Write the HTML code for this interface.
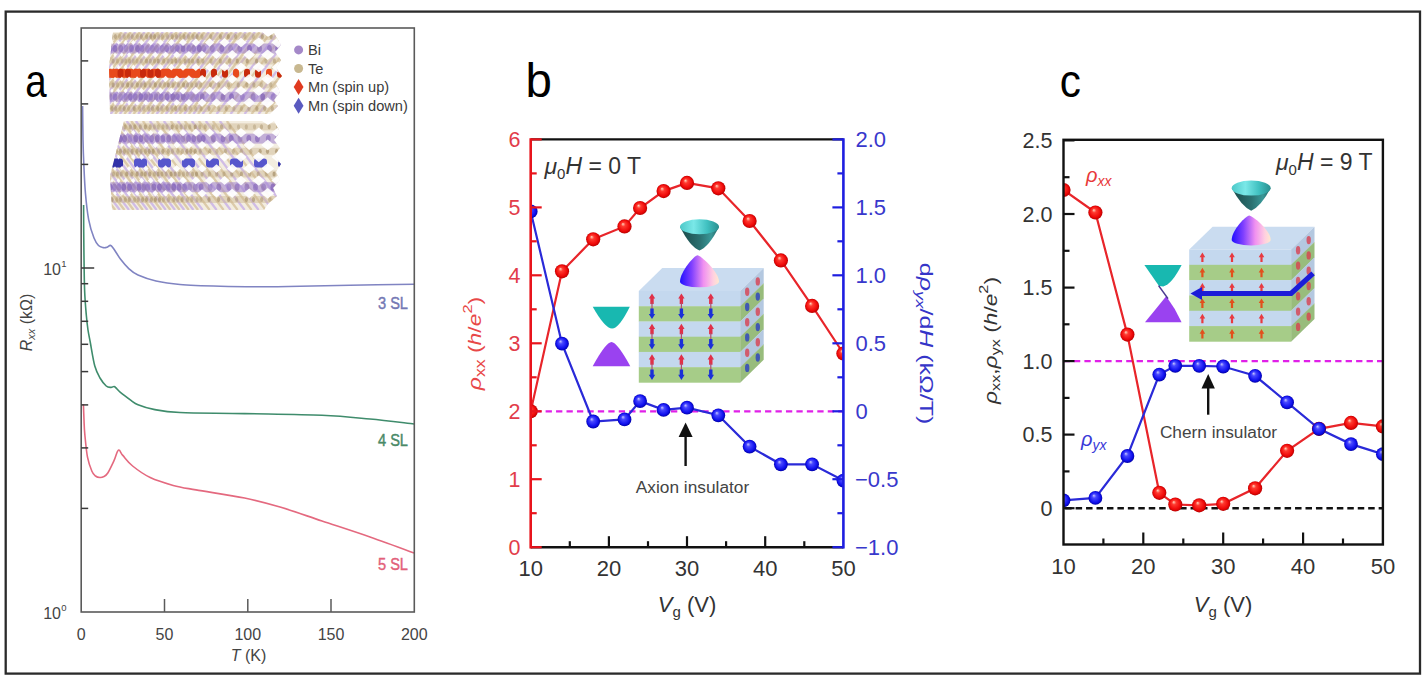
<!DOCTYPE html>
<html><head><meta charset="utf-8"><style>
html,body{margin:0;padding:0;background:#fff;width:1425px;height:679px;overflow:hidden}
svg{display:block;font-family:"Liberation Sans", sans-serif}
</style></head><body>
<svg width="1425" height="679" viewBox="0 0 1425 679">
<defs>
<filter id="soft" x="-5%" y="-5%" width="110%" height="110%"><feGaussianBlur stdDeviation="0.6"/></filter>
<radialGradient id="gr" cx="0.5" cy="0.5" r="0.52" fx="0.38" fy="0.32">
<stop offset="0" stop-color="#ffd8c0"/><stop offset="0.28" stop-color="#ff3a30"/><stop offset="0.75" stop-color="#ee0808"/><stop offset="1" stop-color="#b00000"/></radialGradient>
<radialGradient id="gb" cx="0.5" cy="0.5" r="0.52" fx="0.38" fy="0.32">
<stop offset="0" stop-color="#c8c8ff"/><stop offset="0.28" stop-color="#4848ff"/><stop offset="0.75" stop-color="#1010ee"/><stop offset="1" stop-color="#0000a0"/></radialGradient>
</defs>
<rect x="5.7" y="11.6" width="1414.3" height="662" fill="none" stroke="#2a2a2a" stroke-width="2.3"/>
<text transform="translate(25.3,96.6) scale(0.82,1)" font-size="47" fill="#000">a</text>
<text x="525.5" y="96.6" font-size="47.5" fill="#000">b</text>
<text transform="translate(1059.8,96.6) scale(0.9,1)" font-size="47" fill="#000">c</text>
<g filter="url(#soft)">
<clipPath id="cr0"><path d="M113,32 L262,32 L268,37 L274,33 L281,45 L275,52 L281,60 L276,68 L282,76 L276,84 L280,92 L274,100 L278,106 L270,114 L110,114 L109,68 Z"/></clipPath>
<g clip-path="url(#cr0)"><rect x="100" y="32" width="190" height="82" fill="#f3ede0"/><line x1="60.0" y1="114" x2="121.5" y2="32" stroke="#dccbaa" stroke-width="2.3"/><line x1="64.6" y1="114" x2="126.1" y2="32" stroke="#d0bce6" stroke-width="2.3"/><line x1="69.2" y1="114" x2="130.7" y2="32" stroke="#dccbaa" stroke-width="2.3"/><line x1="73.8" y1="114" x2="135.3" y2="32" stroke="#d0bce6" stroke-width="2.3"/><line x1="78.4" y1="114" x2="139.9" y2="32" stroke="#dccbaa" stroke-width="2.3"/><line x1="83.0" y1="114" x2="144.5" y2="32" stroke="#d0bce6" stroke-width="2.3"/><line x1="87.6" y1="114" x2="149.1" y2="32" stroke="#dccbaa" stroke-width="2.3"/><line x1="92.2" y1="114" x2="153.7" y2="32" stroke="#d0bce6" stroke-width="2.3"/><line x1="96.8" y1="114" x2="158.3" y2="32" stroke="#dccbaa" stroke-width="2.3"/><line x1="101.4" y1="114" x2="162.9" y2="32" stroke="#d0bce6" stroke-width="2.3"/><line x1="106.0" y1="114" x2="167.5" y2="32" stroke="#dccbaa" stroke-width="2.3"/><line x1="110.6" y1="114" x2="172.1" y2="32" stroke="#d0bce6" stroke-width="2.3"/><line x1="115.2" y1="114" x2="176.7" y2="32" stroke="#dccbaa" stroke-width="2.3"/><line x1="119.8" y1="114" x2="181.3" y2="32" stroke="#d0bce6" stroke-width="2.3"/><line x1="124.4" y1="114" x2="185.9" y2="32" stroke="#dccbaa" stroke-width="2.3"/><line x1="129.0" y1="114" x2="190.5" y2="32" stroke="#d0bce6" stroke-width="2.3"/><line x1="133.6" y1="114" x2="195.1" y2="32" stroke="#dccbaa" stroke-width="2.3"/><line x1="138.2" y1="114" x2="199.7" y2="32" stroke="#d0bce6" stroke-width="2.3"/><line x1="142.8" y1="114" x2="204.3" y2="32" stroke="#dccbaa" stroke-width="2.3"/><line x1="147.4" y1="114" x2="208.9" y2="32" stroke="#d0bce6" stroke-width="2.3"/><line x1="152.0" y1="114" x2="213.5" y2="32" stroke="#dccbaa" stroke-width="2.3"/><line x1="156.6" y1="114" x2="218.1" y2="32" stroke="#d0bce6" stroke-width="2.3"/><line x1="161.2" y1="114" x2="222.7" y2="32" stroke="#dccbaa" stroke-width="2.3"/><line x1="165.8" y1="114" x2="227.3" y2="32" stroke="#d0bce6" stroke-width="2.3"/><line x1="170.4" y1="114" x2="231.9" y2="32" stroke="#dccbaa" stroke-width="2.3"/><line x1="175.0" y1="114" x2="236.5" y2="32" stroke="#d0bce6" stroke-width="2.3"/><line x1="179.6" y1="114" x2="241.1" y2="32" stroke="#dccbaa" stroke-width="2.3"/><line x1="184.2" y1="114" x2="245.7" y2="32" stroke="#d0bce6" stroke-width="2.3"/><line x1="188.8" y1="114" x2="250.3" y2="32" stroke="#dccbaa" stroke-width="2.3"/><line x1="193.4" y1="114" x2="254.9" y2="32" stroke="#d0bce6" stroke-width="2.3"/><line x1="198.0" y1="114" x2="259.5" y2="32" stroke="#dccbaa" stroke-width="2.3"/><line x1="202.6" y1="114" x2="264.1" y2="32" stroke="#d0bce6" stroke-width="2.3"/><line x1="209.6" y1="114" x2="271.1" y2="32" stroke="#dccbaa" stroke-width="2.3"/><line x1="216.6" y1="114" x2="278.1" y2="32" stroke="#d0bce6" stroke-width="2.3"/><line x1="223.6" y1="114" x2="285.1" y2="32" stroke="#dccbaa" stroke-width="2.3"/><line x1="230.6" y1="114" x2="292.1" y2="32" stroke="#d0bce6" stroke-width="2.3"/><line x1="237.6" y1="114" x2="299.1" y2="32" stroke="#dccbaa" stroke-width="2.3"/><line x1="244.6" y1="114" x2="306.1" y2="32" stroke="#d0bce6" stroke-width="2.3"/><line x1="251.6" y1="114" x2="313.1" y2="32" stroke="#dccbaa" stroke-width="2.3"/><line x1="258.6" y1="114" x2="320.1" y2="32" stroke="#d0bce6" stroke-width="2.3"/><line x1="265.6" y1="114" x2="327.1" y2="32" stroke="#dccbaa" stroke-width="2.3"/><line x1="272.6" y1="114" x2="334.1" y2="32" stroke="#d0bce6" stroke-width="2.3"/><line x1="279.6" y1="114" x2="341.1" y2="32" stroke="#dccbaa" stroke-width="2.3"/><line x1="286.6" y1="114" x2="348.1" y2="32" stroke="#d0bce6" stroke-width="2.3"/><line x1="293.6" y1="114" x2="355.1" y2="32" stroke="#dccbaa" stroke-width="2.3"/><rect x="100" y="33.0" width="190" height="7" fill="#cbb68e" opacity="0.45"/><ellipse cx="108.0" cy="36.5" rx="1.6" ry="2.6" fill="#a8926c" opacity="0.51"/><ellipse cx="111.8" cy="36.5" rx="1.6" ry="2.6" fill="#a8926c" opacity="0.63"/><ellipse cx="115.4" cy="36.5" rx="1.6" ry="2.6" fill="#a8926c" opacity="0.59"/><ellipse cx="119.7" cy="36.5" rx="1.6" ry="2.6" fill="#a8926c" opacity="0.42"/><ellipse cx="124.2" cy="36.5" rx="1.6" ry="2.6" fill="#a8926c" opacity="0.41"/><ellipse cx="128.6" cy="36.5" rx="1.6" ry="2.6" fill="#a8926c" opacity="0.42"/><ellipse cx="132.2" cy="36.5" rx="1.6" ry="2.6" fill="#a8926c" opacity="0.55"/><ellipse cx="137.4" cy="36.5" rx="1.6" ry="2.6" fill="#a8926c" opacity="0.44"/><ellipse cx="141.3" cy="36.5" rx="1.6" ry="2.6" fill="#a8926c" opacity="0.62"/><ellipse cx="146.7" cy="36.5" rx="1.6" ry="2.6" fill="#a8926c" opacity="0.60"/><ellipse cx="151.0" cy="36.5" rx="1.6" ry="2.6" fill="#a8926c" opacity="0.74"/><ellipse cx="154.6" cy="36.5" rx="1.6" ry="2.6" fill="#a8926c" opacity="0.70"/><ellipse cx="158.7" cy="36.5" rx="1.6" ry="2.6" fill="#a8926c" opacity="0.45"/><ellipse cx="162.4" cy="36.5" rx="1.6" ry="2.6" fill="#a8926c" opacity="0.51"/><ellipse cx="167.6" cy="36.5" rx="1.6" ry="2.6" fill="#a8926c" opacity="0.46"/><ellipse cx="172.2" cy="36.5" rx="1.6" ry="2.6" fill="#a8926c" opacity="0.62"/><ellipse cx="176.5" cy="36.5" rx="1.6" ry="2.6" fill="#a8926c" opacity="0.59"/><ellipse cx="180.1" cy="36.5" rx="1.6" ry="2.6" fill="#a8926c" opacity="0.42"/><ellipse cx="184.0" cy="36.5" rx="1.6" ry="2.6" fill="#a8926c" opacity="0.64"/><ellipse cx="188.4" cy="36.5" rx="1.6" ry="2.6" fill="#a8926c" opacity="0.51"/><ellipse cx="193.0" cy="36.5" rx="1.6" ry="2.6" fill="#a8926c" opacity="0.56"/><ellipse cx="197.1" cy="36.5" rx="1.6" ry="2.6" fill="#a8926c" opacity="0.68"/><ellipse cx="202.0" cy="36.5" rx="1.6" ry="2.6" fill="#a8926c" opacity="0.49"/><ellipse cx="210.8" cy="36.5" rx="1.6" ry="2.6" fill="#a8926c" opacity="0.58"/><ellipse cx="220.4" cy="36.5" rx="1.6" ry="2.6" fill="#a8926c" opacity="0.66"/><ellipse cx="228.3" cy="36.5" rx="1.6" ry="2.6" fill="#a8926c" opacity="0.74"/><ellipse cx="235.6" cy="36.5" rx="1.6" ry="2.6" fill="#a8926c" opacity="0.55"/><ellipse cx="244.9" cy="36.5" rx="1.6" ry="2.6" fill="#a8926c" opacity="0.45"/><ellipse cx="253.3" cy="36.5" rx="1.6" ry="2.6" fill="#a8926c" opacity="0.41"/><ellipse cx="262.3" cy="36.5" rx="1.6" ry="2.6" fill="#a8926c" opacity="0.67"/><ellipse cx="271.1" cy="36.5" rx="1.6" ry="2.6" fill="#a8926c" opacity="0.71"/><ellipse cx="279.0" cy="36.5" rx="1.6" ry="2.6" fill="#a8926c" opacity="0.64"/><rect x="100" y="43.5" width="190" height="10" fill="#a486d0" opacity="0.6"/><ellipse cx="110.0" cy="48.5" rx="2.4" ry="3.6" fill="#7c5cb4" opacity="0.55"/><ellipse cx="114.9" cy="48.5" rx="2.4" ry="3.6" fill="#7c5cb4" opacity="0.64"/><ellipse cx="120.8" cy="48.5" rx="2.4" ry="3.6" fill="#7c5cb4" opacity="0.52"/><ellipse cx="126.1" cy="48.5" rx="2.4" ry="3.6" fill="#7c5cb4" opacity="0.37"/><ellipse cx="131.5" cy="48.5" rx="2.4" ry="3.6" fill="#7c5cb4" opacity="0.58"/><ellipse cx="137.5" cy="48.5" rx="2.4" ry="3.6" fill="#7c5cb4" opacity="0.64"/><ellipse cx="142.1" cy="48.5" rx="2.4" ry="3.6" fill="#7c5cb4" opacity="0.49"/><ellipse cx="147.4" cy="48.5" rx="2.4" ry="3.6" fill="#7c5cb4" opacity="0.36"/><ellipse cx="152.3" cy="48.5" rx="2.4" ry="3.6" fill="#7c5cb4" opacity="0.41"/><ellipse cx="156.6" cy="48.5" rx="2.4" ry="3.6" fill="#7c5cb4" opacity="0.37"/><ellipse cx="162.1" cy="48.5" rx="2.4" ry="3.6" fill="#7c5cb4" opacity="0.40"/><ellipse cx="166.6" cy="48.5" rx="2.4" ry="3.6" fill="#7c5cb4" opacity="0.49"/><ellipse cx="172.4" cy="48.5" rx="2.4" ry="3.6" fill="#7c5cb4" opacity="0.38"/><ellipse cx="177.3" cy="48.5" rx="2.4" ry="3.6" fill="#7c5cb4" opacity="0.54"/><ellipse cx="183.0" cy="48.5" rx="2.4" ry="3.6" fill="#7c5cb4" opacity="0.64"/><ellipse cx="188.8" cy="48.5" rx="2.4" ry="3.6" fill="#7c5cb4" opacity="0.45"/><ellipse cx="193.6" cy="48.5" rx="2.4" ry="3.6" fill="#7c5cb4" opacity="0.48"/><ellipse cx="199.3" cy="48.5" rx="2.4" ry="3.6" fill="#7c5cb4" opacity="0.69"/><ellipse cx="203.7" cy="48.5" rx="2.4" ry="3.6" fill="#7c5cb4" opacity="0.41"/><ellipse cx="212.3" cy="48.5" rx="2.4" ry="3.6" fill="#7c5cb4" opacity="0.43"/><ellipse cx="221.8" cy="48.5" rx="2.4" ry="3.6" fill="#7c5cb4" opacity="0.56"/><ellipse cx="230.6" cy="48.5" rx="2.4" ry="3.6" fill="#7c5cb4" opacity="0.35"/><ellipse cx="239.8" cy="48.5" rx="2.4" ry="3.6" fill="#7c5cb4" opacity="0.48"/><ellipse cx="249.5" cy="48.5" rx="2.4" ry="3.6" fill="#7c5cb4" opacity="0.68"/><ellipse cx="259.6" cy="48.5" rx="2.4" ry="3.6" fill="#7c5cb4" opacity="0.53"/><ellipse cx="269.5" cy="48.5" rx="2.4" ry="3.6" fill="#7c5cb4" opacity="0.59"/><ellipse cx="277.6" cy="48.5" rx="2.4" ry="3.6" fill="#7c5cb4" opacity="0.66"/><rect x="100" y="57.5" width="190" height="7" fill="#cbb68e" opacity="0.45"/><ellipse cx="108.0" cy="61.0" rx="1.6" ry="2.6" fill="#a8926c" opacity="0.71"/><ellipse cx="113.1" cy="61.0" rx="1.6" ry="2.6" fill="#a8926c" opacity="0.54"/><ellipse cx="117.4" cy="61.0" rx="1.6" ry="2.6" fill="#a8926c" opacity="0.44"/><ellipse cx="122.2" cy="61.0" rx="1.6" ry="2.6" fill="#a8926c" opacity="0.42"/><ellipse cx="125.8" cy="61.0" rx="1.6" ry="2.6" fill="#a8926c" opacity="0.47"/><ellipse cx="129.6" cy="61.0" rx="1.6" ry="2.6" fill="#a8926c" opacity="0.52"/><ellipse cx="133.2" cy="61.0" rx="1.6" ry="2.6" fill="#a8926c" opacity="0.40"/><ellipse cx="137.0" cy="61.0" rx="1.6" ry="2.6" fill="#a8926c" opacity="0.44"/><ellipse cx="141.3" cy="61.0" rx="1.6" ry="2.6" fill="#a8926c" opacity="0.41"/><ellipse cx="146.5" cy="61.0" rx="1.6" ry="2.6" fill="#a8926c" opacity="0.61"/><ellipse cx="150.3" cy="61.0" rx="1.6" ry="2.6" fill="#a8926c" opacity="0.49"/><ellipse cx="154.5" cy="61.0" rx="1.6" ry="2.6" fill="#a8926c" opacity="0.53"/><ellipse cx="158.2" cy="61.0" rx="1.6" ry="2.6" fill="#a8926c" opacity="0.70"/><ellipse cx="163.7" cy="61.0" rx="1.6" ry="2.6" fill="#a8926c" opacity="0.56"/><ellipse cx="168.2" cy="61.0" rx="1.6" ry="2.6" fill="#a8926c" opacity="0.43"/><ellipse cx="171.9" cy="61.0" rx="1.6" ry="2.6" fill="#a8926c" opacity="0.52"/><ellipse cx="175.9" cy="61.0" rx="1.6" ry="2.6" fill="#a8926c" opacity="0.69"/><ellipse cx="179.8" cy="61.0" rx="1.6" ry="2.6" fill="#a8926c" opacity="0.41"/><ellipse cx="185.2" cy="61.0" rx="1.6" ry="2.6" fill="#a8926c" opacity="0.58"/><ellipse cx="188.9" cy="61.0" rx="1.6" ry="2.6" fill="#a8926c" opacity="0.59"/><ellipse cx="192.5" cy="61.0" rx="1.6" ry="2.6" fill="#a8926c" opacity="0.58"/><ellipse cx="198.0" cy="61.0" rx="1.6" ry="2.6" fill="#a8926c" opacity="0.70"/><ellipse cx="202.9" cy="61.0" rx="1.6" ry="2.6" fill="#a8926c" opacity="0.49"/><ellipse cx="211.0" cy="61.0" rx="1.6" ry="2.6" fill="#a8926c" opacity="0.46"/><ellipse cx="220.3" cy="61.0" rx="1.6" ry="2.6" fill="#a8926c" opacity="0.59"/><ellipse cx="229.6" cy="61.0" rx="1.6" ry="2.6" fill="#a8926c" opacity="0.52"/><ellipse cx="237.3" cy="61.0" rx="1.6" ry="2.6" fill="#a8926c" opacity="0.68"/><ellipse cx="247.2" cy="61.0" rx="1.6" ry="2.6" fill="#a8926c" opacity="0.70"/><ellipse cx="256.6" cy="61.0" rx="1.6" ry="2.6" fill="#a8926c" opacity="0.69"/><ellipse cx="265.9" cy="61.0" rx="1.6" ry="2.6" fill="#a8926c" opacity="0.48"/><ellipse cx="274.4" cy="61.0" rx="1.6" ry="2.6" fill="#a8926c" opacity="0.52"/><ellipse cx="281.5" cy="61.0" rx="1.6" ry="2.6" fill="#a8926c" opacity="0.41"/><rect x="100" y="68.8" width="100" height="9" fill="#e84a1c"/><rect x="110.0" y="68.8" width="6" height="9" rx="3" fill="#e84a1c"/><rect x="117.5" y="68.8" width="6" height="9" rx="3" fill="#c82c0c"/><rect x="125.0" y="68.8" width="6" height="9" rx="3" fill="#c82c0c"/><rect x="132.5" y="68.8" width="6" height="9" rx="3" fill="#e84a1c"/><rect x="140.0" y="68.8" width="6" height="9" rx="3" fill="#c82c0c"/><rect x="147.5" y="68.8" width="6" height="9" rx="3" fill="#c82c0c"/><rect x="155.0" y="68.8" width="6" height="9" rx="3" fill="#c82c0c"/><rect x="162.5" y="68.8" width="6" height="9" rx="3" fill="#e84a1c"/><rect x="170.0" y="68.8" width="6" height="9" rx="3" fill="#e84a1c"/><rect x="177.5" y="68.8" width="6" height="9" rx="3" fill="#e84a1c"/><rect x="185.0" y="68.8" width="6" height="9" rx="3" fill="#e84a1c"/><rect x="192.5" y="68.8" width="6" height="9" rx="3" fill="#e84a1c"/><rect x="200.0" y="68.8" width="6" height="9" rx="3" fill="#c82c0c"/><rect x="211.0" y="68.8" width="6" height="9" rx="3" fill="#c82c0c"/><rect x="222.0" y="68.8" width="6" height="9" rx="3" fill="#c82c0c"/><rect x="233.0" y="68.8" width="6" height="9" rx="3" fill="#e84a1c"/><rect x="244.0" y="68.8" width="6" height="9" rx="3" fill="#c82c0c"/><rect x="255.0" y="68.8" width="6" height="9" rx="3" fill="#c82c0c"/><rect x="266.0" y="68.8" width="6" height="9" rx="3" fill="#e84a1c"/><rect x="277.0" y="68.8" width="6" height="9" rx="3" fill="#c82c0c"/><rect x="100" y="81.3" width="190" height="7" fill="#cbb68e" opacity="0.45"/><ellipse cx="108.0" cy="84.8" rx="1.6" ry="2.6" fill="#a8926c" opacity="0.72"/><ellipse cx="113.1" cy="84.8" rx="1.6" ry="2.6" fill="#a8926c" opacity="0.66"/><ellipse cx="117.5" cy="84.8" rx="1.6" ry="2.6" fill="#a8926c" opacity="0.46"/><ellipse cx="122.6" cy="84.8" rx="1.6" ry="2.6" fill="#a8926c" opacity="0.52"/><ellipse cx="127.7" cy="84.8" rx="1.6" ry="2.6" fill="#a8926c" opacity="0.74"/><ellipse cx="132.0" cy="84.8" rx="1.6" ry="2.6" fill="#a8926c" opacity="0.54"/><ellipse cx="137.4" cy="84.8" rx="1.6" ry="2.6" fill="#a8926c" opacity="0.65"/><ellipse cx="141.2" cy="84.8" rx="1.6" ry="2.6" fill="#a8926c" opacity="0.44"/><ellipse cx="145.0" cy="84.8" rx="1.6" ry="2.6" fill="#a8926c" opacity="0.72"/><ellipse cx="150.1" cy="84.8" rx="1.6" ry="2.6" fill="#a8926c" opacity="0.45"/><ellipse cx="155.3" cy="84.8" rx="1.6" ry="2.6" fill="#a8926c" opacity="0.74"/><ellipse cx="160.1" cy="84.8" rx="1.6" ry="2.6" fill="#a8926c" opacity="0.52"/><ellipse cx="164.7" cy="84.8" rx="1.6" ry="2.6" fill="#a8926c" opacity="0.45"/><ellipse cx="168.2" cy="84.8" rx="1.6" ry="2.6" fill="#a8926c" opacity="0.74"/><ellipse cx="173.0" cy="84.8" rx="1.6" ry="2.6" fill="#a8926c" opacity="0.58"/><ellipse cx="178.4" cy="84.8" rx="1.6" ry="2.6" fill="#a8926c" opacity="0.55"/><ellipse cx="183.6" cy="84.8" rx="1.6" ry="2.6" fill="#a8926c" opacity="0.69"/><ellipse cx="187.6" cy="84.8" rx="1.6" ry="2.6" fill="#a8926c" opacity="0.49"/><ellipse cx="191.7" cy="84.8" rx="1.6" ry="2.6" fill="#a8926c" opacity="0.48"/><ellipse cx="196.3" cy="84.8" rx="1.6" ry="2.6" fill="#a8926c" opacity="0.49"/><ellipse cx="200.7" cy="84.8" rx="1.6" ry="2.6" fill="#a8926c" opacity="0.45"/><ellipse cx="210.4" cy="84.8" rx="1.6" ry="2.6" fill="#a8926c" opacity="0.52"/><ellipse cx="218.8" cy="84.8" rx="1.6" ry="2.6" fill="#a8926c" opacity="0.60"/><ellipse cx="228.5" cy="84.8" rx="1.6" ry="2.6" fill="#a8926c" opacity="0.55"/><ellipse cx="238.2" cy="84.8" rx="1.6" ry="2.6" fill="#a8926c" opacity="0.58"/><ellipse cx="246.8" cy="84.8" rx="1.6" ry="2.6" fill="#a8926c" opacity="0.58"/><ellipse cx="253.9" cy="84.8" rx="1.6" ry="2.6" fill="#a8926c" opacity="0.55"/><ellipse cx="261.4" cy="84.8" rx="1.6" ry="2.6" fill="#a8926c" opacity="0.40"/><ellipse cx="270.8" cy="84.8" rx="1.6" ry="2.6" fill="#a8926c" opacity="0.46"/><ellipse cx="279.3" cy="84.8" rx="1.6" ry="2.6" fill="#a8926c" opacity="0.65"/><rect x="100" y="91.8" width="190" height="10" fill="#a486d0" opacity="0.6"/><ellipse cx="110.0" cy="96.8" rx="2.4" ry="3.6" fill="#7c5cb4" opacity="0.46"/><ellipse cx="115.0" cy="96.8" rx="2.4" ry="3.6" fill="#7c5cb4" opacity="0.54"/><ellipse cx="120.6" cy="96.8" rx="2.4" ry="3.6" fill="#7c5cb4" opacity="0.39"/><ellipse cx="125.7" cy="96.8" rx="2.4" ry="3.6" fill="#7c5cb4" opacity="0.44"/><ellipse cx="130.3" cy="96.8" rx="2.4" ry="3.6" fill="#7c5cb4" opacity="0.62"/><ellipse cx="135.3" cy="96.8" rx="2.4" ry="3.6" fill="#7c5cb4" opacity="0.55"/><ellipse cx="140.8" cy="96.8" rx="2.4" ry="3.6" fill="#7c5cb4" opacity="0.67"/><ellipse cx="145.7" cy="96.8" rx="2.4" ry="3.6" fill="#7c5cb4" opacity="0.56"/><ellipse cx="150.7" cy="96.8" rx="2.4" ry="3.6" fill="#7c5cb4" opacity="0.53"/><ellipse cx="156.1" cy="96.8" rx="2.4" ry="3.6" fill="#7c5cb4" opacity="0.51"/><ellipse cx="161.2" cy="96.8" rx="2.4" ry="3.6" fill="#7c5cb4" opacity="0.52"/><ellipse cx="167.0" cy="96.8" rx="2.4" ry="3.6" fill="#7c5cb4" opacity="0.59"/><ellipse cx="172.8" cy="96.8" rx="2.4" ry="3.6" fill="#7c5cb4" opacity="0.68"/><ellipse cx="177.3" cy="96.8" rx="2.4" ry="3.6" fill="#7c5cb4" opacity="0.55"/><ellipse cx="183.2" cy="96.8" rx="2.4" ry="3.6" fill="#7c5cb4" opacity="0.64"/><ellipse cx="187.5" cy="96.8" rx="2.4" ry="3.6" fill="#7c5cb4" opacity="0.39"/><ellipse cx="192.4" cy="96.8" rx="2.4" ry="3.6" fill="#7c5cb4" opacity="0.38"/><ellipse cx="196.8" cy="96.8" rx="2.4" ry="3.6" fill="#7c5cb4" opacity="0.38"/><ellipse cx="202.2" cy="96.8" rx="2.4" ry="3.6" fill="#7c5cb4" opacity="0.62"/><ellipse cx="212.9" cy="96.8" rx="2.4" ry="3.6" fill="#7c5cb4" opacity="0.40"/><ellipse cx="223.0" cy="96.8" rx="2.4" ry="3.6" fill="#7c5cb4" opacity="0.58"/><ellipse cx="231.5" cy="96.8" rx="2.4" ry="3.6" fill="#7c5cb4" opacity="0.66"/><ellipse cx="242.4" cy="96.8" rx="2.4" ry="3.6" fill="#7c5cb4" opacity="0.43"/><ellipse cx="253.2" cy="96.8" rx="2.4" ry="3.6" fill="#7c5cb4" opacity="0.49"/><ellipse cx="262.7" cy="96.8" rx="2.4" ry="3.6" fill="#7c5cb4" opacity="0.70"/><ellipse cx="273.2" cy="96.8" rx="2.4" ry="3.6" fill="#7c5cb4" opacity="0.41"/><ellipse cx="282.5" cy="96.8" rx="2.4" ry="3.6" fill="#7c5cb4" opacity="0.53"/><rect x="100" y="105.0" width="190" height="7" fill="#cbb68e" opacity="0.45"/><ellipse cx="108.0" cy="108.5" rx="1.6" ry="2.6" fill="#a8926c" opacity="0.47"/><ellipse cx="112.1" cy="108.5" rx="1.6" ry="2.6" fill="#a8926c" opacity="0.65"/><ellipse cx="115.7" cy="108.5" rx="1.6" ry="2.6" fill="#a8926c" opacity="0.59"/><ellipse cx="120.1" cy="108.5" rx="1.6" ry="2.6" fill="#a8926c" opacity="0.41"/><ellipse cx="124.2" cy="108.5" rx="1.6" ry="2.6" fill="#a8926c" opacity="0.62"/><ellipse cx="128.7" cy="108.5" rx="1.6" ry="2.6" fill="#a8926c" opacity="0.42"/><ellipse cx="134.2" cy="108.5" rx="1.6" ry="2.6" fill="#a8926c" opacity="0.68"/><ellipse cx="139.7" cy="108.5" rx="1.6" ry="2.6" fill="#a8926c" opacity="0.44"/><ellipse cx="143.7" cy="108.5" rx="1.6" ry="2.6" fill="#a8926c" opacity="0.41"/><ellipse cx="148.7" cy="108.5" rx="1.6" ry="2.6" fill="#a8926c" opacity="0.49"/><ellipse cx="152.5" cy="108.5" rx="1.6" ry="2.6" fill="#a8926c" opacity="0.55"/><ellipse cx="157.8" cy="108.5" rx="1.6" ry="2.6" fill="#a8926c" opacity="0.69"/><ellipse cx="161.8" cy="108.5" rx="1.6" ry="2.6" fill="#a8926c" opacity="0.45"/><ellipse cx="167.2" cy="108.5" rx="1.6" ry="2.6" fill="#a8926c" opacity="0.60"/><ellipse cx="172.1" cy="108.5" rx="1.6" ry="2.6" fill="#a8926c" opacity="0.43"/><ellipse cx="175.7" cy="108.5" rx="1.6" ry="2.6" fill="#a8926c" opacity="0.64"/><ellipse cx="180.1" cy="108.5" rx="1.6" ry="2.6" fill="#a8926c" opacity="0.43"/><ellipse cx="185.4" cy="108.5" rx="1.6" ry="2.6" fill="#a8926c" opacity="0.62"/><ellipse cx="190.5" cy="108.5" rx="1.6" ry="2.6" fill="#a8926c" opacity="0.43"/><ellipse cx="195.7" cy="108.5" rx="1.6" ry="2.6" fill="#a8926c" opacity="0.42"/><ellipse cx="201.0" cy="108.5" rx="1.6" ry="2.6" fill="#a8926c" opacity="0.56"/><ellipse cx="209.0" cy="108.5" rx="1.6" ry="2.6" fill="#a8926c" opacity="0.59"/><ellipse cx="218.8" cy="108.5" rx="1.6" ry="2.6" fill="#a8926c" opacity="0.49"/><ellipse cx="226.2" cy="108.5" rx="1.6" ry="2.6" fill="#a8926c" opacity="0.58"/><ellipse cx="233.9" cy="108.5" rx="1.6" ry="2.6" fill="#a8926c" opacity="0.44"/><ellipse cx="241.4" cy="108.5" rx="1.6" ry="2.6" fill="#a8926c" opacity="0.42"/><ellipse cx="249.0" cy="108.5" rx="1.6" ry="2.6" fill="#a8926c" opacity="0.51"/><ellipse cx="256.9" cy="108.5" rx="1.6" ry="2.6" fill="#a8926c" opacity="0.67"/><ellipse cx="264.7" cy="108.5" rx="1.6" ry="2.6" fill="#a8926c" opacity="0.58"/><ellipse cx="272.3" cy="108.5" rx="1.6" ry="2.6" fill="#a8926c" opacity="0.52"/><ellipse cx="279.3" cy="108.5" rx="1.6" ry="2.6" fill="#a8926c" opacity="0.49"/><path d="M110.4,42.5 L112.0,40.3 L113.6,42.5 L112.0,44.7 Z" fill="#ffffff" opacity="0.92"/><path d="M116.7,42.5 L118.5,40.2 L120.3,42.5 L118.5,44.8 Z" fill="#ffffff" opacity="0.92"/><path d="M123.5,42.5 L125.6,40.0 L127.6,42.5 L125.6,45.0 Z" fill="#ffffff" opacity="0.92"/><path d="M131.0,42.5 L133.3,39.9 L135.5,42.5 L133.3,45.1 Z" fill="#ffffff" opacity="0.92"/><path d="M139.1,42.5 L141.6,39.7 L144.1,42.5 L141.6,45.3 Z" fill="#ffffff" opacity="0.92"/><path d="M147.9,42.5 L150.7,39.5 L153.5,42.5 L150.7,45.5 Z" fill="#ffffff" opacity="0.92"/><path d="M157.5,42.5 L160.6,39.3 L163.7,42.5 L160.6,45.7 Z" fill="#ffffff" opacity="0.92"/><path d="M167.9,42.5 L171.3,39.1 L174.8,42.5 L171.3,45.9 Z" fill="#ffffff" opacity="0.92"/><path d="M179.2,42.5 L183.0,38.9 L186.9,42.5 L183.0,46.1 Z" fill="#ffffff" opacity="0.92"/><path d="M191.5,42.5 L195.8,38.6 L200.0,42.5 L195.8,46.4 Z" fill="#ffffff" opacity="0.92"/><path d="M204.9,42.5 L209.6,38.3 L214.2,42.5 L209.6,46.7 Z" fill="#ffffff" opacity="0.92"/><path d="M219.5,42.5 L224.6,38.0 L229.7,42.5 L224.6,47.0 Z" fill="#ffffff" opacity="0.92"/><path d="M235.3,42.5 L241.0,37.7 L246.6,42.5 L241.0,47.3 Z" fill="#ffffff" opacity="0.92"/><path d="M252.6,42.5 L258.8,37.4 L264.9,42.5 L258.8,47.6 Z" fill="#ffffff" opacity="0.92"/><path d="M271.5,42.5 L278.1,37.1 L284.7,42.5 L278.1,47.9 Z" fill="#ffffff" opacity="0.92"/><path d="M113.3,54.8 L115.0,52.5 L116.7,54.8 L115.0,57.0 Z" fill="#ffffff" opacity="0.92"/><path d="M119.9,54.8 L121.8,52.4 L123.7,54.8 L121.8,57.1 Z" fill="#ffffff" opacity="0.92"/><path d="M127.0,54.8 L129.1,52.2 L131.3,54.8 L129.1,57.3 Z" fill="#ffffff" opacity="0.92"/><path d="M134.7,54.8 L137.1,52.0 L139.5,54.8 L137.1,57.5 Z" fill="#ffffff" opacity="0.92"/><path d="M143.2,54.8 L145.8,51.9 L148.5,54.8 L145.8,57.6 Z" fill="#ffffff" opacity="0.92"/><path d="M152.3,54.8 L155.3,51.7 L158.2,54.8 L155.3,57.8 Z" fill="#ffffff" opacity="0.92"/><path d="M162.3,54.8 L165.6,51.5 L168.8,54.8 L165.6,58.0 Z" fill="#ffffff" opacity="0.92"/><path d="M173.1,54.8 L176.7,51.3 L180.4,54.8 L176.7,58.2 Z" fill="#ffffff" opacity="0.92"/><path d="M184.9,54.8 L188.9,51.0 L192.9,54.8 L188.9,58.5 Z" fill="#ffffff" opacity="0.92"/><path d="M197.7,54.8 L202.1,50.7 L206.6,54.8 L202.1,58.8 Z" fill="#ffffff" opacity="0.92"/><path d="M211.7,54.8 L216.5,50.5 L221.4,54.8 L216.5,59.0 Z" fill="#ffffff" opacity="0.92"/><path d="M226.8,54.8 L232.2,50.1 L237.5,54.8 L232.2,59.4 Z" fill="#ffffff" opacity="0.92"/><path d="M243.3,54.8 L249.2,49.8 L255.1,54.8 L249.2,59.7 Z" fill="#ffffff" opacity="0.92"/><path d="M261.2,54.8 L267.7,49.4 L274.2,54.8 L267.7,60.1 Z" fill="#ffffff" opacity="0.92"/><path d="M110.4,67.2 L112.0,65.0 L113.6,67.2 L112.0,69.4 Z" fill="#ffffff" opacity="0.92"/><path d="M116.7,67.2 L118.5,64.8 L120.3,67.2 L118.5,69.5 Z" fill="#ffffff" opacity="0.92"/><path d="M123.5,67.2 L125.6,64.7 L127.6,67.2 L125.6,69.6 Z" fill="#ffffff" opacity="0.92"/><path d="M131.0,67.2 L133.3,64.5 L135.5,67.2 L133.3,69.8 Z" fill="#ffffff" opacity="0.92"/><path d="M139.1,67.2 L141.6,64.4 L144.1,67.2 L141.6,69.9 Z" fill="#ffffff" opacity="0.92"/><path d="M147.9,67.2 L150.7,64.2 L153.5,67.2 L150.7,70.1 Z" fill="#ffffff" opacity="0.92"/><path d="M157.5,67.2 L160.6,64.0 L163.7,67.2 L160.6,70.3 Z" fill="#ffffff" opacity="0.92"/><path d="M167.9,67.2 L171.3,63.8 L174.8,67.2 L171.3,70.5 Z" fill="#ffffff" opacity="0.92"/><path d="M179.2,67.2 L183.0,63.5 L186.9,67.2 L183.0,70.8 Z" fill="#ffffff" opacity="0.92"/><path d="M191.5,67.2 L195.8,63.3 L200.0,67.2 L195.8,71.0 Z" fill="#ffffff" opacity="0.92"/><path d="M204.9,67.2 L209.6,63.0 L214.2,67.2 L209.6,71.3 Z" fill="#ffffff" opacity="0.92"/><path d="M219.5,67.2 L224.6,62.7 L229.7,67.2 L224.6,71.6 Z" fill="#ffffff" opacity="0.92"/><path d="M235.3,67.2 L241.0,62.4 L246.6,67.2 L241.0,71.9 Z" fill="#ffffff" opacity="0.92"/><path d="M252.6,67.2 L258.8,62.0 L264.9,67.2 L258.8,72.3 Z" fill="#ffffff" opacity="0.92"/><path d="M271.5,67.2 L278.1,61.8 L284.7,67.2 L278.1,72.6 Z" fill="#ffffff" opacity="0.92"/><path d="M113.3,79.0 L115.0,76.8 L116.7,79.0 L115.0,81.3 Z" fill="#ffffff" opacity="0.92"/><path d="M119.9,79.0 L121.8,76.7 L123.7,79.0 L121.8,81.4 Z" fill="#ffffff" opacity="0.92"/><path d="M127.0,79.0 L129.1,76.5 L131.3,79.0 L129.1,81.6 Z" fill="#ffffff" opacity="0.92"/><path d="M134.7,79.0 L137.1,76.3 L139.5,79.0 L137.1,81.8 Z" fill="#ffffff" opacity="0.92"/><path d="M143.2,79.0 L145.8,76.2 L148.5,79.0 L145.8,81.9 Z" fill="#ffffff" opacity="0.92"/><path d="M152.3,79.0 L155.3,76.0 L158.2,79.0 L155.3,82.1 Z" fill="#ffffff" opacity="0.92"/><path d="M162.3,79.0 L165.6,75.8 L168.8,79.0 L165.6,82.3 Z" fill="#ffffff" opacity="0.92"/><path d="M173.1,79.0 L176.7,75.6 L180.4,79.0 L176.7,82.5 Z" fill="#ffffff" opacity="0.92"/><path d="M184.9,79.0 L188.9,75.3 L192.9,79.0 L188.9,82.8 Z" fill="#ffffff" opacity="0.92"/><path d="M197.7,79.0 L202.1,75.0 L206.6,79.0 L202.1,83.1 Z" fill="#ffffff" opacity="0.92"/><path d="M211.7,79.0 L216.5,74.8 L221.4,79.0 L216.5,83.3 Z" fill="#ffffff" opacity="0.92"/><path d="M226.8,79.0 L232.2,74.4 L237.5,79.0 L232.2,83.7 Z" fill="#ffffff" opacity="0.92"/><path d="M243.3,79.0 L249.2,74.1 L255.1,79.0 L249.2,84.0 Z" fill="#ffffff" opacity="0.92"/><path d="M261.2,79.0 L267.7,73.7 L274.2,79.0 L267.7,84.4 Z" fill="#ffffff" opacity="0.92"/><path d="M110.4,90.8 L112.0,88.6 L113.6,90.8 L112.0,93.0 Z" fill="#ffffff" opacity="0.92"/><path d="M116.7,90.8 L118.5,88.5 L120.3,90.8 L118.5,93.1 Z" fill="#ffffff" opacity="0.92"/><path d="M123.5,90.8 L125.6,88.3 L127.6,90.8 L125.6,93.3 Z" fill="#ffffff" opacity="0.92"/><path d="M131.0,90.8 L133.3,88.2 L135.5,90.8 L133.3,93.4 Z" fill="#ffffff" opacity="0.92"/><path d="M139.1,90.8 L141.6,88.0 L144.1,90.8 L141.6,93.6 Z" fill="#ffffff" opacity="0.92"/><path d="M147.9,90.8 L150.7,87.8 L153.5,90.8 L150.7,93.8 Z" fill="#ffffff" opacity="0.92"/><path d="M157.5,90.8 L160.6,87.6 L163.7,90.8 L160.6,94.0 Z" fill="#ffffff" opacity="0.92"/><path d="M167.9,90.8 L171.3,87.4 L174.8,90.8 L171.3,94.2 Z" fill="#ffffff" opacity="0.92"/><path d="M179.2,90.8 L183.0,87.2 L186.9,90.8 L183.0,94.4 Z" fill="#ffffff" opacity="0.92"/><path d="M191.5,90.8 L195.8,86.9 L200.0,90.8 L195.8,94.7 Z" fill="#ffffff" opacity="0.92"/><path d="M204.9,90.8 L209.6,86.6 L214.2,90.8 L209.6,95.0 Z" fill="#ffffff" opacity="0.92"/><path d="M219.5,90.8 L224.6,86.3 L229.7,90.8 L224.6,95.3 Z" fill="#ffffff" opacity="0.92"/><path d="M235.3,90.8 L241.0,86.0 L246.6,90.8 L241.0,95.6 Z" fill="#ffffff" opacity="0.92"/><path d="M252.6,90.8 L258.8,85.7 L264.9,90.8 L258.8,95.9 Z" fill="#ffffff" opacity="0.92"/><path d="M271.5,90.8 L278.1,85.4 L284.7,90.8 L278.1,96.2 Z" fill="#ffffff" opacity="0.92"/><path d="M113.3,102.7 L115.0,100.4 L116.7,102.7 L115.0,104.9 Z" fill="#ffffff" opacity="0.92"/><path d="M119.9,102.7 L121.8,100.3 L123.7,102.7 L121.8,105.0 Z" fill="#ffffff" opacity="0.92"/><path d="M127.0,102.7 L129.1,100.1 L131.3,102.7 L129.1,105.2 Z" fill="#ffffff" opacity="0.92"/><path d="M134.7,102.7 L137.1,99.9 L139.5,102.7 L137.1,105.4 Z" fill="#ffffff" opacity="0.92"/><path d="M143.2,102.7 L145.8,99.8 L148.5,102.7 L145.8,105.5 Z" fill="#ffffff" opacity="0.92"/><path d="M152.3,102.7 L155.3,99.6 L158.2,102.7 L155.3,105.7 Z" fill="#ffffff" opacity="0.92"/><path d="M162.3,102.7 L165.6,99.4 L168.8,102.7 L165.6,105.9 Z" fill="#ffffff" opacity="0.92"/><path d="M173.1,102.7 L176.7,99.2 L180.4,102.7 L176.7,106.1 Z" fill="#ffffff" opacity="0.92"/><path d="M184.9,102.7 L188.9,98.9 L192.9,102.7 L188.9,106.4 Z" fill="#ffffff" opacity="0.92"/><path d="M197.7,102.7 L202.1,98.6 L206.6,102.7 L202.1,106.7 Z" fill="#ffffff" opacity="0.92"/><path d="M211.7,102.7 L216.5,98.4 L221.4,102.7 L216.5,106.9 Z" fill="#ffffff" opacity="0.92"/><path d="M226.8,102.7 L232.2,98.0 L237.5,102.7 L232.2,107.3 Z" fill="#ffffff" opacity="0.92"/><path d="M243.3,102.7 L249.2,97.7 L255.1,102.7 L249.2,107.6 Z" fill="#ffffff" opacity="0.92"/><path d="M261.2,102.7 L267.7,97.3 L274.2,102.7 L267.7,108.0 Z" fill="#ffffff" opacity="0.92"/></g>
<clipPath id="cr1"><path d="M124,121 L262,121 L268,125 L274,121 L280,132 L274,140 L280,148 L274,156 L281,164 L276,172 L280,180 L273,188 L277,196 L268,204 L264,210 L112,210 L110,176 Z"/></clipPath>
<g clip-path="url(#cr1)"><rect x="100" y="121" width="190" height="89" fill="#f3ede0"/><line x1="60.0" y1="210" x2="-6.8" y2="121" stroke="#dccbaa" stroke-width="2.3"/><line x1="64.6" y1="210" x2="-2.2" y2="121" stroke="#d0bce6" stroke-width="2.3"/><line x1="69.2" y1="210" x2="2.4" y2="121" stroke="#dccbaa" stroke-width="2.3"/><line x1="73.8" y1="210" x2="7.0" y2="121" stroke="#d0bce6" stroke-width="2.3"/><line x1="78.4" y1="210" x2="11.6" y2="121" stroke="#dccbaa" stroke-width="2.3"/><line x1="83.0" y1="210" x2="16.2" y2="121" stroke="#d0bce6" stroke-width="2.3"/><line x1="87.6" y1="210" x2="20.8" y2="121" stroke="#dccbaa" stroke-width="2.3"/><line x1="92.2" y1="210" x2="25.4" y2="121" stroke="#d0bce6" stroke-width="2.3"/><line x1="96.8" y1="210" x2="30.0" y2="121" stroke="#dccbaa" stroke-width="2.3"/><line x1="101.4" y1="210" x2="34.6" y2="121" stroke="#d0bce6" stroke-width="2.3"/><line x1="106.0" y1="210" x2="39.2" y2="121" stroke="#dccbaa" stroke-width="2.3"/><line x1="110.6" y1="210" x2="43.8" y2="121" stroke="#d0bce6" stroke-width="2.3"/><line x1="115.2" y1="210" x2="48.4" y2="121" stroke="#dccbaa" stroke-width="2.3"/><line x1="119.8" y1="210" x2="53.0" y2="121" stroke="#d0bce6" stroke-width="2.3"/><line x1="124.4" y1="210" x2="57.6" y2="121" stroke="#dccbaa" stroke-width="2.3"/><line x1="129.0" y1="210" x2="62.2" y2="121" stroke="#d0bce6" stroke-width="2.3"/><line x1="133.6" y1="210" x2="66.8" y2="121" stroke="#dccbaa" stroke-width="2.3"/><line x1="138.2" y1="210" x2="71.4" y2="121" stroke="#d0bce6" stroke-width="2.3"/><line x1="142.8" y1="210" x2="76.0" y2="121" stroke="#dccbaa" stroke-width="2.3"/><line x1="147.4" y1="210" x2="80.6" y2="121" stroke="#d0bce6" stroke-width="2.3"/><line x1="152.0" y1="210" x2="85.2" y2="121" stroke="#dccbaa" stroke-width="2.3"/><line x1="156.6" y1="210" x2="89.8" y2="121" stroke="#d0bce6" stroke-width="2.3"/><line x1="161.2" y1="210" x2="94.4" y2="121" stroke="#dccbaa" stroke-width="2.3"/><line x1="165.8" y1="210" x2="99.0" y2="121" stroke="#d0bce6" stroke-width="2.3"/><line x1="170.4" y1="210" x2="103.6" y2="121" stroke="#dccbaa" stroke-width="2.3"/><line x1="175.0" y1="210" x2="108.2" y2="121" stroke="#d0bce6" stroke-width="2.3"/><line x1="179.6" y1="210" x2="112.8" y2="121" stroke="#dccbaa" stroke-width="2.3"/><line x1="184.2" y1="210" x2="117.4" y2="121" stroke="#d0bce6" stroke-width="2.3"/><line x1="188.8" y1="210" x2="122.0" y2="121" stroke="#dccbaa" stroke-width="2.3"/><line x1="193.4" y1="210" x2="126.6" y2="121" stroke="#d0bce6" stroke-width="2.3"/><line x1="198.0" y1="210" x2="131.2" y2="121" stroke="#dccbaa" stroke-width="2.3"/><line x1="202.6" y1="210" x2="135.8" y2="121" stroke="#d0bce6" stroke-width="2.3"/><line x1="209.6" y1="210" x2="142.8" y2="121" stroke="#dccbaa" stroke-width="2.3"/><line x1="216.6" y1="210" x2="149.8" y2="121" stroke="#d0bce6" stroke-width="2.3"/><line x1="223.6" y1="210" x2="156.8" y2="121" stroke="#dccbaa" stroke-width="2.3"/><line x1="230.6" y1="210" x2="163.8" y2="121" stroke="#d0bce6" stroke-width="2.3"/><line x1="237.6" y1="210" x2="170.8" y2="121" stroke="#dccbaa" stroke-width="2.3"/><line x1="244.6" y1="210" x2="177.8" y2="121" stroke="#d0bce6" stroke-width="2.3"/><line x1="251.6" y1="210" x2="184.8" y2="121" stroke="#dccbaa" stroke-width="2.3"/><line x1="258.6" y1="210" x2="191.8" y2="121" stroke="#d0bce6" stroke-width="2.3"/><line x1="265.6" y1="210" x2="198.8" y2="121" stroke="#dccbaa" stroke-width="2.3"/><line x1="272.6" y1="210" x2="205.8" y2="121" stroke="#d0bce6" stroke-width="2.3"/><line x1="279.6" y1="210" x2="212.8" y2="121" stroke="#dccbaa" stroke-width="2.3"/><line x1="286.6" y1="210" x2="219.8" y2="121" stroke="#d0bce6" stroke-width="2.3"/><line x1="293.6" y1="210" x2="226.8" y2="121" stroke="#dccbaa" stroke-width="2.3"/><rect x="100" y="123.3" width="190" height="7" fill="#cbb68e" opacity="0.45"/><ellipse cx="108.0" cy="126.8" rx="1.6" ry="2.6" fill="#a8926c" opacity="0.66"/><ellipse cx="112.6" cy="126.8" rx="1.6" ry="2.6" fill="#a8926c" opacity="0.47"/><ellipse cx="117.1" cy="126.8" rx="1.6" ry="2.6" fill="#a8926c" opacity="0.73"/><ellipse cx="120.8" cy="126.8" rx="1.6" ry="2.6" fill="#a8926c" opacity="0.69"/><ellipse cx="125.1" cy="126.8" rx="1.6" ry="2.6" fill="#a8926c" opacity="0.57"/><ellipse cx="130.3" cy="126.8" rx="1.6" ry="2.6" fill="#a8926c" opacity="0.54"/><ellipse cx="134.8" cy="126.8" rx="1.6" ry="2.6" fill="#a8926c" opacity="0.64"/><ellipse cx="140.3" cy="126.8" rx="1.6" ry="2.6" fill="#a8926c" opacity="0.52"/><ellipse cx="145.4" cy="126.8" rx="1.6" ry="2.6" fill="#a8926c" opacity="0.65"/><ellipse cx="150.2" cy="126.8" rx="1.6" ry="2.6" fill="#a8926c" opacity="0.54"/><ellipse cx="154.4" cy="126.8" rx="1.6" ry="2.6" fill="#a8926c" opacity="0.42"/><ellipse cx="158.2" cy="126.8" rx="1.6" ry="2.6" fill="#a8926c" opacity="0.42"/><ellipse cx="163.1" cy="126.8" rx="1.6" ry="2.6" fill="#a8926c" opacity="0.49"/><ellipse cx="167.0" cy="126.8" rx="1.6" ry="2.6" fill="#a8926c" opacity="0.43"/><ellipse cx="172.2" cy="126.8" rx="1.6" ry="2.6" fill="#a8926c" opacity="0.70"/><ellipse cx="177.0" cy="126.8" rx="1.6" ry="2.6" fill="#a8926c" opacity="0.50"/><ellipse cx="181.0" cy="126.8" rx="1.6" ry="2.6" fill="#a8926c" opacity="0.50"/><ellipse cx="185.4" cy="126.8" rx="1.6" ry="2.6" fill="#a8926c" opacity="0.46"/><ellipse cx="189.8" cy="126.8" rx="1.6" ry="2.6" fill="#a8926c" opacity="0.49"/><ellipse cx="195.2" cy="126.8" rx="1.6" ry="2.6" fill="#a8926c" opacity="0.74"/><ellipse cx="199.8" cy="126.8" rx="1.6" ry="2.6" fill="#a8926c" opacity="0.49"/><ellipse cx="205.2" cy="126.8" rx="1.6" ry="2.6" fill="#a8926c" opacity="0.51"/><ellipse cx="213.3" cy="126.8" rx="1.6" ry="2.6" fill="#a8926c" opacity="0.40"/><ellipse cx="221.5" cy="126.8" rx="1.6" ry="2.6" fill="#a8926c" opacity="0.57"/><ellipse cx="230.0" cy="126.8" rx="1.6" ry="2.6" fill="#a8926c" opacity="0.47"/><ellipse cx="238.5" cy="126.8" rx="1.6" ry="2.6" fill="#a8926c" opacity="0.40"/><ellipse cx="246.3" cy="126.8" rx="1.6" ry="2.6" fill="#a8926c" opacity="0.43"/><ellipse cx="254.5" cy="126.8" rx="1.6" ry="2.6" fill="#a8926c" opacity="0.41"/><ellipse cx="261.5" cy="126.8" rx="1.6" ry="2.6" fill="#a8926c" opacity="0.51"/><ellipse cx="269.2" cy="126.8" rx="1.6" ry="2.6" fill="#a8926c" opacity="0.60"/><ellipse cx="277.8" cy="126.8" rx="1.6" ry="2.6" fill="#a8926c" opacity="0.66"/><rect x="100" y="133.6" width="190" height="10" fill="#a486d0" opacity="0.6"/><ellipse cx="110.0" cy="138.6" rx="2.4" ry="3.6" fill="#7c5cb4" opacity="0.60"/><ellipse cx="115.8" cy="138.6" rx="2.4" ry="3.6" fill="#7c5cb4" opacity="0.49"/><ellipse cx="120.4" cy="138.6" rx="2.4" ry="3.6" fill="#7c5cb4" opacity="0.69"/><ellipse cx="124.7" cy="138.6" rx="2.4" ry="3.6" fill="#7c5cb4" opacity="0.60"/><ellipse cx="130.0" cy="138.6" rx="2.4" ry="3.6" fill="#7c5cb4" opacity="0.37"/><ellipse cx="135.7" cy="138.6" rx="2.4" ry="3.6" fill="#7c5cb4" opacity="0.66"/><ellipse cx="140.9" cy="138.6" rx="2.4" ry="3.6" fill="#7c5cb4" opacity="0.61"/><ellipse cx="146.5" cy="138.6" rx="2.4" ry="3.6" fill="#7c5cb4" opacity="0.40"/><ellipse cx="151.6" cy="138.6" rx="2.4" ry="3.6" fill="#7c5cb4" opacity="0.53"/><ellipse cx="157.3" cy="138.6" rx="2.4" ry="3.6" fill="#7c5cb4" opacity="0.63"/><ellipse cx="162.9" cy="138.6" rx="2.4" ry="3.6" fill="#7c5cb4" opacity="0.55"/><ellipse cx="168.7" cy="138.6" rx="2.4" ry="3.6" fill="#7c5cb4" opacity="0.59"/><ellipse cx="174.1" cy="138.6" rx="2.4" ry="3.6" fill="#7c5cb4" opacity="0.43"/><ellipse cx="178.2" cy="138.6" rx="2.4" ry="3.6" fill="#7c5cb4" opacity="0.40"/><ellipse cx="182.9" cy="138.6" rx="2.4" ry="3.6" fill="#7c5cb4" opacity="0.39"/><ellipse cx="188.5" cy="138.6" rx="2.4" ry="3.6" fill="#7c5cb4" opacity="0.55"/><ellipse cx="193.8" cy="138.6" rx="2.4" ry="3.6" fill="#7c5cb4" opacity="0.57"/><ellipse cx="199.2" cy="138.6" rx="2.4" ry="3.6" fill="#7c5cb4" opacity="0.52"/><ellipse cx="203.2" cy="138.6" rx="2.4" ry="3.6" fill="#7c5cb4" opacity="0.63"/><ellipse cx="213.4" cy="138.6" rx="2.4" ry="3.6" fill="#7c5cb4" opacity="0.53"/><ellipse cx="223.0" cy="138.6" rx="2.4" ry="3.6" fill="#7c5cb4" opacity="0.58"/><ellipse cx="231.2" cy="138.6" rx="2.4" ry="3.6" fill="#7c5cb4" opacity="0.61"/><ellipse cx="240.0" cy="138.6" rx="2.4" ry="3.6" fill="#7c5cb4" opacity="0.38"/><ellipse cx="248.8" cy="138.6" rx="2.4" ry="3.6" fill="#7c5cb4" opacity="0.61"/><ellipse cx="257.4" cy="138.6" rx="2.4" ry="3.6" fill="#7c5cb4" opacity="0.61"/><ellipse cx="268.3" cy="138.6" rx="2.4" ry="3.6" fill="#7c5cb4" opacity="0.52"/><ellipse cx="277.5" cy="138.6" rx="2.4" ry="3.6" fill="#7c5cb4" opacity="0.52"/><rect x="100" y="147.8" width="190" height="7" fill="#cbb68e" opacity="0.45"/><ellipse cx="108.0" cy="151.3" rx="1.6" ry="2.6" fill="#a8926c" opacity="0.67"/><ellipse cx="112.7" cy="151.3" rx="1.6" ry="2.6" fill="#a8926c" opacity="0.62"/><ellipse cx="116.4" cy="151.3" rx="1.6" ry="2.6" fill="#a8926c" opacity="0.45"/><ellipse cx="120.4" cy="151.3" rx="1.6" ry="2.6" fill="#a8926c" opacity="0.66"/><ellipse cx="124.5" cy="151.3" rx="1.6" ry="2.6" fill="#a8926c" opacity="0.60"/><ellipse cx="128.0" cy="151.3" rx="1.6" ry="2.6" fill="#a8926c" opacity="0.42"/><ellipse cx="132.1" cy="151.3" rx="1.6" ry="2.6" fill="#a8926c" opacity="0.64"/><ellipse cx="137.0" cy="151.3" rx="1.6" ry="2.6" fill="#a8926c" opacity="0.64"/><ellipse cx="141.0" cy="151.3" rx="1.6" ry="2.6" fill="#a8926c" opacity="0.58"/><ellipse cx="145.5" cy="151.3" rx="1.6" ry="2.6" fill="#a8926c" opacity="0.56"/><ellipse cx="149.2" cy="151.3" rx="1.6" ry="2.6" fill="#a8926c" opacity="0.71"/><ellipse cx="153.1" cy="151.3" rx="1.6" ry="2.6" fill="#a8926c" opacity="0.74"/><ellipse cx="158.5" cy="151.3" rx="1.6" ry="2.6" fill="#a8926c" opacity="0.41"/><ellipse cx="162.9" cy="151.3" rx="1.6" ry="2.6" fill="#a8926c" opacity="0.69"/><ellipse cx="168.3" cy="151.3" rx="1.6" ry="2.6" fill="#a8926c" opacity="0.56"/><ellipse cx="172.4" cy="151.3" rx="1.6" ry="2.6" fill="#a8926c" opacity="0.47"/><ellipse cx="177.8" cy="151.3" rx="1.6" ry="2.6" fill="#a8926c" opacity="0.47"/><ellipse cx="182.4" cy="151.3" rx="1.6" ry="2.6" fill="#a8926c" opacity="0.45"/><ellipse cx="187.0" cy="151.3" rx="1.6" ry="2.6" fill="#a8926c" opacity="0.73"/><ellipse cx="190.7" cy="151.3" rx="1.6" ry="2.6" fill="#a8926c" opacity="0.69"/><ellipse cx="195.2" cy="151.3" rx="1.6" ry="2.6" fill="#a8926c" opacity="0.71"/><ellipse cx="200.2" cy="151.3" rx="1.6" ry="2.6" fill="#a8926c" opacity="0.48"/><ellipse cx="209.8" cy="151.3" rx="1.6" ry="2.6" fill="#a8926c" opacity="0.57"/><ellipse cx="216.9" cy="151.3" rx="1.6" ry="2.6" fill="#a8926c" opacity="0.40"/><ellipse cx="225.4" cy="151.3" rx="1.6" ry="2.6" fill="#a8926c" opacity="0.56"/><ellipse cx="233.3" cy="151.3" rx="1.6" ry="2.6" fill="#a8926c" opacity="0.45"/><ellipse cx="241.3" cy="151.3" rx="1.6" ry="2.6" fill="#a8926c" opacity="0.51"/><ellipse cx="250.9" cy="151.3" rx="1.6" ry="2.6" fill="#a8926c" opacity="0.40"/><ellipse cx="260.1" cy="151.3" rx="1.6" ry="2.6" fill="#a8926c" opacity="0.69"/><ellipse cx="267.5" cy="151.3" rx="1.6" ry="2.6" fill="#a8926c" opacity="0.72"/><ellipse cx="276.6" cy="151.3" rx="1.6" ry="2.6" fill="#a8926c" opacity="0.72"/><ellipse cx="284.5" cy="151.3" rx="1.6" ry="2.6" fill="#a8926c" opacity="0.53"/><rect x="100" y="158.4" width="0" height="9" fill="#5656cc"/><rect x="110.0" y="158.4" width="13" height="9" rx="3" fill="#3030a8"/><rect x="134.0" y="158.4" width="13" height="9" rx="3" fill="#5656cc"/><rect x="158.0" y="158.4" width="13" height="9" rx="3" fill="#5656cc"/><rect x="182.0" y="158.4" width="13" height="9" rx="3" fill="#5656cc"/><rect x="206.0" y="158.4" width="13" height="9" rx="3" fill="#5656cc"/><rect x="230.0" y="158.4" width="13" height="9" rx="3" fill="#5656cc"/><rect x="254.0" y="158.4" width="13" height="9" rx="3" fill="#5656cc"/><rect x="278.0" y="158.4" width="13" height="9" rx="3" fill="#3030a8"/><rect x="100" y="170.5" width="190" height="7" fill="#cbb68e" opacity="0.45"/><ellipse cx="108.0" cy="174.0" rx="1.6" ry="2.6" fill="#a8926c" opacity="0.50"/><ellipse cx="113.4" cy="174.0" rx="1.6" ry="2.6" fill="#a8926c" opacity="0.49"/><ellipse cx="117.4" cy="174.0" rx="1.6" ry="2.6" fill="#a8926c" opacity="0.58"/><ellipse cx="121.3" cy="174.0" rx="1.6" ry="2.6" fill="#a8926c" opacity="0.53"/><ellipse cx="126.7" cy="174.0" rx="1.6" ry="2.6" fill="#a8926c" opacity="0.71"/><ellipse cx="131.8" cy="174.0" rx="1.6" ry="2.6" fill="#a8926c" opacity="0.62"/><ellipse cx="137.1" cy="174.0" rx="1.6" ry="2.6" fill="#a8926c" opacity="0.73"/><ellipse cx="141.7" cy="174.0" rx="1.6" ry="2.6" fill="#a8926c" opacity="0.65"/><ellipse cx="145.3" cy="174.0" rx="1.6" ry="2.6" fill="#a8926c" opacity="0.66"/><ellipse cx="149.7" cy="174.0" rx="1.6" ry="2.6" fill="#a8926c" opacity="0.66"/><ellipse cx="154.5" cy="174.0" rx="1.6" ry="2.6" fill="#a8926c" opacity="0.50"/><ellipse cx="158.1" cy="174.0" rx="1.6" ry="2.6" fill="#a8926c" opacity="0.72"/><ellipse cx="161.9" cy="174.0" rx="1.6" ry="2.6" fill="#a8926c" opacity="0.57"/><ellipse cx="166.1" cy="174.0" rx="1.6" ry="2.6" fill="#a8926c" opacity="0.50"/><ellipse cx="171.1" cy="174.0" rx="1.6" ry="2.6" fill="#a8926c" opacity="0.74"/><ellipse cx="175.1" cy="174.0" rx="1.6" ry="2.6" fill="#a8926c" opacity="0.63"/><ellipse cx="179.2" cy="174.0" rx="1.6" ry="2.6" fill="#a8926c" opacity="0.60"/><ellipse cx="183.5" cy="174.0" rx="1.6" ry="2.6" fill="#a8926c" opacity="0.46"/><ellipse cx="187.3" cy="174.0" rx="1.6" ry="2.6" fill="#a8926c" opacity="0.47"/><ellipse cx="192.6" cy="174.0" rx="1.6" ry="2.6" fill="#a8926c" opacity="0.57"/><ellipse cx="196.5" cy="174.0" rx="1.6" ry="2.6" fill="#a8926c" opacity="0.72"/><ellipse cx="202.0" cy="174.0" rx="1.6" ry="2.6" fill="#a8926c" opacity="0.56"/><ellipse cx="209.4" cy="174.0" rx="1.6" ry="2.6" fill="#a8926c" opacity="0.47"/><ellipse cx="216.7" cy="174.0" rx="1.6" ry="2.6" fill="#a8926c" opacity="0.52"/><ellipse cx="224.0" cy="174.0" rx="1.6" ry="2.6" fill="#a8926c" opacity="0.48"/><ellipse cx="231.8" cy="174.0" rx="1.6" ry="2.6" fill="#a8926c" opacity="0.60"/><ellipse cx="241.4" cy="174.0" rx="1.6" ry="2.6" fill="#a8926c" opacity="0.66"/><ellipse cx="249.7" cy="174.0" rx="1.6" ry="2.6" fill="#a8926c" opacity="0.54"/><ellipse cx="258.2" cy="174.0" rx="1.6" ry="2.6" fill="#a8926c" opacity="0.53"/><ellipse cx="266.3" cy="174.0" rx="1.6" ry="2.6" fill="#a8926c" opacity="0.42"/><ellipse cx="274.1" cy="174.0" rx="1.6" ry="2.6" fill="#a8926c" opacity="0.74"/><ellipse cx="281.5" cy="174.0" rx="1.6" ry="2.6" fill="#a8926c" opacity="0.58"/><rect x="100" y="182.2" width="190" height="10" fill="#a486d0" opacity="0.6"/><ellipse cx="110.0" cy="187.2" rx="2.4" ry="3.6" fill="#7c5cb4" opacity="0.65"/><ellipse cx="114.4" cy="187.2" rx="2.4" ry="3.6" fill="#7c5cb4" opacity="0.44"/><ellipse cx="118.9" cy="187.2" rx="2.4" ry="3.6" fill="#7c5cb4" opacity="0.49"/><ellipse cx="123.8" cy="187.2" rx="2.4" ry="3.6" fill="#7c5cb4" opacity="0.68"/><ellipse cx="129.5" cy="187.2" rx="2.4" ry="3.6" fill="#7c5cb4" opacity="0.66"/><ellipse cx="133.6" cy="187.2" rx="2.4" ry="3.6" fill="#7c5cb4" opacity="0.36"/><ellipse cx="139.0" cy="187.2" rx="2.4" ry="3.6" fill="#7c5cb4" opacity="0.66"/><ellipse cx="143.9" cy="187.2" rx="2.4" ry="3.6" fill="#7c5cb4" opacity="0.56"/><ellipse cx="147.9" cy="187.2" rx="2.4" ry="3.6" fill="#7c5cb4" opacity="0.49"/><ellipse cx="153.8" cy="187.2" rx="2.4" ry="3.6" fill="#7c5cb4" opacity="0.64"/><ellipse cx="159.5" cy="187.2" rx="2.4" ry="3.6" fill="#7c5cb4" opacity="0.69"/><ellipse cx="164.0" cy="187.2" rx="2.4" ry="3.6" fill="#7c5cb4" opacity="0.39"/><ellipse cx="168.3" cy="187.2" rx="2.4" ry="3.6" fill="#7c5cb4" opacity="0.53"/><ellipse cx="173.7" cy="187.2" rx="2.4" ry="3.6" fill="#7c5cb4" opacity="0.68"/><ellipse cx="179.1" cy="187.2" rx="2.4" ry="3.6" fill="#7c5cb4" opacity="0.58"/><ellipse cx="184.6" cy="187.2" rx="2.4" ry="3.6" fill="#7c5cb4" opacity="0.51"/><ellipse cx="189.7" cy="187.2" rx="2.4" ry="3.6" fill="#7c5cb4" opacity="0.36"/><ellipse cx="195.3" cy="187.2" rx="2.4" ry="3.6" fill="#7c5cb4" opacity="0.43"/><ellipse cx="201.1" cy="187.2" rx="2.4" ry="3.6" fill="#7c5cb4" opacity="0.58"/><ellipse cx="210.1" cy="187.2" rx="2.4" ry="3.6" fill="#7c5cb4" opacity="0.39"/><ellipse cx="218.8" cy="187.2" rx="2.4" ry="3.6" fill="#7c5cb4" opacity="0.57"/><ellipse cx="228.9" cy="187.2" rx="2.4" ry="3.6" fill="#7c5cb4" opacity="0.39"/><ellipse cx="237.1" cy="187.2" rx="2.4" ry="3.6" fill="#7c5cb4" opacity="0.53"/><ellipse cx="246.9" cy="187.2" rx="2.4" ry="3.6" fill="#7c5cb4" opacity="0.49"/><ellipse cx="255.5" cy="187.2" rx="2.4" ry="3.6" fill="#7c5cb4" opacity="0.56"/><ellipse cx="263.6" cy="187.2" rx="2.4" ry="3.6" fill="#7c5cb4" opacity="0.46"/><ellipse cx="272.9" cy="187.2" rx="2.4" ry="3.6" fill="#7c5cb4" opacity="0.69"/><ellipse cx="282.9" cy="187.2" rx="2.4" ry="3.6" fill="#7c5cb4" opacity="0.66"/><rect x="100" y="196.0" width="190" height="7" fill="#cbb68e" opacity="0.45"/><ellipse cx="108.0" cy="199.5" rx="1.6" ry="2.6" fill="#a8926c" opacity="0.48"/><ellipse cx="112.0" cy="199.5" rx="1.6" ry="2.6" fill="#a8926c" opacity="0.74"/><ellipse cx="116.9" cy="199.5" rx="1.6" ry="2.6" fill="#a8926c" opacity="0.51"/><ellipse cx="120.4" cy="199.5" rx="1.6" ry="2.6" fill="#a8926c" opacity="0.57"/><ellipse cx="125.3" cy="199.5" rx="1.6" ry="2.6" fill="#a8926c" opacity="0.55"/><ellipse cx="129.3" cy="199.5" rx="1.6" ry="2.6" fill="#a8926c" opacity="0.63"/><ellipse cx="134.7" cy="199.5" rx="1.6" ry="2.6" fill="#a8926c" opacity="0.48"/><ellipse cx="138.2" cy="199.5" rx="1.6" ry="2.6" fill="#a8926c" opacity="0.52"/><ellipse cx="142.6" cy="199.5" rx="1.6" ry="2.6" fill="#a8926c" opacity="0.64"/><ellipse cx="146.5" cy="199.5" rx="1.6" ry="2.6" fill="#a8926c" opacity="0.68"/><ellipse cx="151.4" cy="199.5" rx="1.6" ry="2.6" fill="#a8926c" opacity="0.58"/><ellipse cx="155.4" cy="199.5" rx="1.6" ry="2.6" fill="#a8926c" opacity="0.74"/><ellipse cx="159.5" cy="199.5" rx="1.6" ry="2.6" fill="#a8926c" opacity="0.69"/><ellipse cx="163.4" cy="199.5" rx="1.6" ry="2.6" fill="#a8926c" opacity="0.48"/><ellipse cx="168.5" cy="199.5" rx="1.6" ry="2.6" fill="#a8926c" opacity="0.50"/><ellipse cx="173.9" cy="199.5" rx="1.6" ry="2.6" fill="#a8926c" opacity="0.57"/><ellipse cx="177.7" cy="199.5" rx="1.6" ry="2.6" fill="#a8926c" opacity="0.48"/><ellipse cx="182.1" cy="199.5" rx="1.6" ry="2.6" fill="#a8926c" opacity="0.63"/><ellipse cx="187.5" cy="199.5" rx="1.6" ry="2.6" fill="#a8926c" opacity="0.45"/><ellipse cx="191.8" cy="199.5" rx="1.6" ry="2.6" fill="#a8926c" opacity="0.47"/><ellipse cx="197.2" cy="199.5" rx="1.6" ry="2.6" fill="#a8926c" opacity="0.45"/><ellipse cx="200.8" cy="199.5" rx="1.6" ry="2.6" fill="#a8926c" opacity="0.42"/><ellipse cx="209.0" cy="199.5" rx="1.6" ry="2.6" fill="#a8926c" opacity="0.71"/><ellipse cx="218.6" cy="199.5" rx="1.6" ry="2.6" fill="#a8926c" opacity="0.66"/><ellipse cx="228.6" cy="199.5" rx="1.6" ry="2.6" fill="#a8926c" opacity="0.73"/><ellipse cx="236.6" cy="199.5" rx="1.6" ry="2.6" fill="#a8926c" opacity="0.46"/><ellipse cx="246.4" cy="199.5" rx="1.6" ry="2.6" fill="#a8926c" opacity="0.66"/><ellipse cx="253.5" cy="199.5" rx="1.6" ry="2.6" fill="#a8926c" opacity="0.63"/><ellipse cx="261.7" cy="199.5" rx="1.6" ry="2.6" fill="#a8926c" opacity="0.53"/><ellipse cx="269.7" cy="199.5" rx="1.6" ry="2.6" fill="#a8926c" opacity="0.46"/><ellipse cx="276.7" cy="199.5" rx="1.6" ry="2.6" fill="#a8926c" opacity="0.50"/><ellipse cx="284.7" cy="199.5" rx="1.6" ry="2.6" fill="#a8926c" opacity="0.73"/><path d="M110.4,132.7 L112.0,130.5 L113.6,132.7 L112.0,134.9 Z" fill="#ffffff" opacity="0.92"/><path d="M116.7,132.7 L118.5,130.4 L120.3,132.7 L118.5,135.0 Z" fill="#ffffff" opacity="0.92"/><path d="M123.5,132.7 L125.6,130.2 L127.6,132.7 L125.6,135.2 Z" fill="#ffffff" opacity="0.92"/><path d="M131.0,132.7 L133.3,130.1 L135.5,132.7 L133.3,135.3 Z" fill="#ffffff" opacity="0.92"/><path d="M139.1,132.7 L141.6,129.9 L144.1,132.7 L141.6,135.5 Z" fill="#ffffff" opacity="0.92"/><path d="M147.9,132.7 L150.7,129.7 L153.5,132.7 L150.7,135.7 Z" fill="#ffffff" opacity="0.92"/><path d="M157.5,132.7 L160.6,129.5 L163.7,132.7 L160.6,135.9 Z" fill="#ffffff" opacity="0.92"/><path d="M167.9,132.7 L171.3,129.3 L174.8,132.7 L171.3,136.1 Z" fill="#ffffff" opacity="0.92"/><path d="M179.2,132.7 L183.0,129.1 L186.9,132.7 L183.0,136.3 Z" fill="#ffffff" opacity="0.92"/><path d="M191.5,132.7 L195.8,128.8 L200.0,132.7 L195.8,136.6 Z" fill="#ffffff" opacity="0.92"/><path d="M204.9,132.7 L209.6,128.5 L214.2,132.7 L209.6,136.9 Z" fill="#ffffff" opacity="0.92"/><path d="M219.5,132.7 L224.6,128.2 L229.7,132.7 L224.6,137.2 Z" fill="#ffffff" opacity="0.92"/><path d="M235.3,132.7 L241.0,127.9 L246.6,132.7 L241.0,137.5 Z" fill="#ffffff" opacity="0.92"/><path d="M252.6,132.7 L258.8,127.6 L264.9,132.7 L258.8,137.8 Z" fill="#ffffff" opacity="0.92"/><path d="M271.5,132.7 L278.1,127.3 L284.7,132.7 L278.1,138.1 Z" fill="#ffffff" opacity="0.92"/><path d="M113.3,144.9 L115.0,142.7 L116.7,144.9 L115.0,147.2 Z" fill="#ffffff" opacity="0.92"/><path d="M119.9,144.9 L121.8,142.6 L123.7,144.9 L121.8,147.3 Z" fill="#ffffff" opacity="0.92"/><path d="M127.0,144.9 L129.1,142.4 L131.3,144.9 L129.1,147.5 Z" fill="#ffffff" opacity="0.92"/><path d="M134.7,144.9 L137.1,142.2 L139.5,144.9 L137.1,147.7 Z" fill="#ffffff" opacity="0.92"/><path d="M143.2,144.9 L145.8,142.1 L148.5,144.9 L145.8,147.8 Z" fill="#ffffff" opacity="0.92"/><path d="M152.3,144.9 L155.3,141.9 L158.2,144.9 L155.3,148.0 Z" fill="#ffffff" opacity="0.92"/><path d="M162.3,144.9 L165.6,141.7 L168.8,144.9 L165.6,148.2 Z" fill="#ffffff" opacity="0.92"/><path d="M173.1,144.9 L176.7,141.5 L180.4,144.9 L176.7,148.4 Z" fill="#ffffff" opacity="0.92"/><path d="M184.9,144.9 L188.9,141.2 L192.9,144.9 L188.9,148.7 Z" fill="#ffffff" opacity="0.92"/><path d="M197.7,144.9 L202.1,140.9 L206.6,144.9 L202.1,149.0 Z" fill="#ffffff" opacity="0.92"/><path d="M211.7,144.9 L216.5,140.7 L221.4,144.9 L216.5,149.2 Z" fill="#ffffff" opacity="0.92"/><path d="M226.8,144.9 L232.2,140.3 L237.5,144.9 L232.2,149.6 Z" fill="#ffffff" opacity="0.92"/><path d="M243.3,144.9 L249.2,140.0 L255.1,144.9 L249.2,149.9 Z" fill="#ffffff" opacity="0.92"/><path d="M261.2,144.9 L267.7,139.6 L274.2,144.9 L267.7,150.3 Z" fill="#ffffff" opacity="0.92"/><path d="M110.4,157.1 L112.0,154.9 L113.6,157.1 L112.0,159.3 Z" fill="#ffffff" opacity="0.92"/><path d="M116.7,157.1 L118.5,154.8 L120.3,157.1 L118.5,159.4 Z" fill="#ffffff" opacity="0.92"/><path d="M123.5,157.1 L125.6,154.6 L127.6,157.1 L125.6,159.6 Z" fill="#ffffff" opacity="0.92"/><path d="M131.0,157.1 L133.3,154.5 L135.5,157.1 L133.3,159.7 Z" fill="#ffffff" opacity="0.92"/><path d="M139.1,157.1 L141.6,154.3 L144.1,157.1 L141.6,159.9 Z" fill="#ffffff" opacity="0.92"/><path d="M147.9,157.1 L150.7,154.1 L153.5,157.1 L150.7,160.1 Z" fill="#ffffff" opacity="0.92"/><path d="M157.5,157.1 L160.6,153.9 L163.7,157.1 L160.6,160.3 Z" fill="#ffffff" opacity="0.92"/><path d="M167.9,157.1 L171.3,153.7 L174.8,157.1 L171.3,160.5 Z" fill="#ffffff" opacity="0.92"/><path d="M179.2,157.1 L183.0,153.5 L186.9,157.1 L183.0,160.7 Z" fill="#ffffff" opacity="0.92"/><path d="M191.5,157.1 L195.8,153.2 L200.0,157.1 L195.8,161.0 Z" fill="#ffffff" opacity="0.92"/><path d="M204.9,157.1 L209.6,152.9 L214.2,157.1 L209.6,161.3 Z" fill="#ffffff" opacity="0.92"/><path d="M219.5,157.1 L224.6,152.6 L229.7,157.1 L224.6,161.6 Z" fill="#ffffff" opacity="0.92"/><path d="M235.3,157.1 L241.0,152.3 L246.6,157.1 L241.0,161.9 Z" fill="#ffffff" opacity="0.92"/><path d="M252.6,157.1 L258.8,152.0 L264.9,157.1 L258.8,162.2 Z" fill="#ffffff" opacity="0.92"/><path d="M271.5,157.1 L278.1,151.7 L284.7,157.1 L278.1,162.5 Z" fill="#ffffff" opacity="0.92"/><path d="M113.3,168.4 L115.0,166.2 L116.7,168.4 L115.0,170.7 Z" fill="#ffffff" opacity="0.92"/><path d="M119.9,168.4 L121.8,166.1 L123.7,168.4 L121.8,170.8 Z" fill="#ffffff" opacity="0.92"/><path d="M127.0,168.4 L129.1,165.9 L131.3,168.4 L129.1,171.0 Z" fill="#ffffff" opacity="0.92"/><path d="M134.7,168.4 L137.1,165.7 L139.5,168.4 L137.1,171.2 Z" fill="#ffffff" opacity="0.92"/><path d="M143.2,168.4 L145.8,165.6 L148.5,168.4 L145.8,171.3 Z" fill="#ffffff" opacity="0.92"/><path d="M152.3,168.4 L155.3,165.4 L158.2,168.4 L155.3,171.5 Z" fill="#ffffff" opacity="0.92"/><path d="M162.3,168.4 L165.6,165.2 L168.8,168.4 L165.6,171.7 Z" fill="#ffffff" opacity="0.92"/><path d="M173.1,168.4 L176.7,165.0 L180.4,168.4 L176.7,171.9 Z" fill="#ffffff" opacity="0.92"/><path d="M184.9,168.4 L188.9,164.7 L192.9,168.4 L188.9,172.2 Z" fill="#ffffff" opacity="0.92"/><path d="M197.7,168.4 L202.1,164.4 L206.6,168.4 L202.1,172.5 Z" fill="#ffffff" opacity="0.92"/><path d="M211.7,168.4 L216.5,164.2 L221.4,168.4 L216.5,172.7 Z" fill="#ffffff" opacity="0.92"/><path d="M226.8,168.4 L232.2,163.8 L237.5,168.4 L232.2,173.1 Z" fill="#ffffff" opacity="0.92"/><path d="M243.3,168.4 L249.2,163.5 L255.1,168.4 L249.2,173.4 Z" fill="#ffffff" opacity="0.92"/><path d="M261.2,168.4 L267.7,163.1 L274.2,168.4 L267.7,173.8 Z" fill="#ffffff" opacity="0.92"/><path d="M110.4,180.6 L112.0,178.4 L113.6,180.6 L112.0,182.8 Z" fill="#ffffff" opacity="0.92"/><path d="M116.7,180.6 L118.5,178.3 L120.3,180.6 L118.5,182.9 Z" fill="#ffffff" opacity="0.92"/><path d="M123.5,180.6 L125.6,178.1 L127.6,180.6 L125.6,183.1 Z" fill="#ffffff" opacity="0.92"/><path d="M131.0,180.6 L133.3,178.0 L135.5,180.6 L133.3,183.2 Z" fill="#ffffff" opacity="0.92"/><path d="M139.1,180.6 L141.6,177.8 L144.1,180.6 L141.6,183.4 Z" fill="#ffffff" opacity="0.92"/><path d="M147.9,180.6 L150.7,177.6 L153.5,180.6 L150.7,183.6 Z" fill="#ffffff" opacity="0.92"/><path d="M157.5,180.6 L160.6,177.4 L163.7,180.6 L160.6,183.8 Z" fill="#ffffff" opacity="0.92"/><path d="M167.9,180.6 L171.3,177.2 L174.8,180.6 L171.3,184.0 Z" fill="#ffffff" opacity="0.92"/><path d="M179.2,180.6 L183.0,177.0 L186.9,180.6 L183.0,184.2 Z" fill="#ffffff" opacity="0.92"/><path d="M191.5,180.6 L195.8,176.7 L200.0,180.6 L195.8,184.5 Z" fill="#ffffff" opacity="0.92"/><path d="M204.9,180.6 L209.6,176.4 L214.2,180.6 L209.6,184.8 Z" fill="#ffffff" opacity="0.92"/><path d="M219.5,180.6 L224.6,176.1 L229.7,180.6 L224.6,185.1 Z" fill="#ffffff" opacity="0.92"/><path d="M235.3,180.6 L241.0,175.8 L246.6,180.6 L241.0,185.4 Z" fill="#ffffff" opacity="0.92"/><path d="M252.6,180.6 L258.8,175.5 L264.9,180.6 L258.8,185.7 Z" fill="#ffffff" opacity="0.92"/><path d="M271.5,180.6 L278.1,175.2 L284.7,180.6 L278.1,186.0 Z" fill="#ffffff" opacity="0.92"/><path d="M113.3,193.3 L115.0,191.1 L116.7,193.3 L115.0,195.6 Z" fill="#ffffff" opacity="0.92"/><path d="M119.9,193.3 L121.8,191.0 L123.7,193.3 L121.8,195.7 Z" fill="#ffffff" opacity="0.92"/><path d="M127.0,193.3 L129.1,190.8 L131.3,193.3 L129.1,195.9 Z" fill="#ffffff" opacity="0.92"/><path d="M134.7,193.3 L137.1,190.6 L139.5,193.3 L137.1,196.1 Z" fill="#ffffff" opacity="0.92"/><path d="M143.2,193.3 L145.8,190.5 L148.5,193.3 L145.8,196.2 Z" fill="#ffffff" opacity="0.92"/><path d="M152.3,193.3 L155.3,190.3 L158.2,193.3 L155.3,196.4 Z" fill="#ffffff" opacity="0.92"/><path d="M162.3,193.3 L165.6,190.1 L168.8,193.3 L165.6,196.6 Z" fill="#ffffff" opacity="0.92"/><path d="M173.1,193.3 L176.7,189.9 L180.4,193.3 L176.7,196.8 Z" fill="#ffffff" opacity="0.92"/><path d="M184.9,193.3 L188.9,189.6 L192.9,193.3 L188.9,197.1 Z" fill="#ffffff" opacity="0.92"/><path d="M197.7,193.3 L202.1,189.3 L206.6,193.3 L202.1,197.4 Z" fill="#ffffff" opacity="0.92"/><path d="M211.7,193.3 L216.5,189.1 L221.4,193.3 L216.5,197.6 Z" fill="#ffffff" opacity="0.92"/><path d="M226.8,193.3 L232.2,188.7 L237.5,193.3 L232.2,198.0 Z" fill="#ffffff" opacity="0.92"/><path d="M243.3,193.3 L249.2,188.4 L255.1,193.3 L249.2,198.3 Z" fill="#ffffff" opacity="0.92"/><path d="M261.2,193.3 L267.7,188.0 L274.2,193.3 L267.7,198.7 Z" fill="#ffffff" opacity="0.92"/></g>
</g>
<path d="M82.6,106.0 C82.7,111.7 82.8,130.3 83.0,140.0 C83.2,149.7 83.4,155.2 83.8,164.0 C84.2,172.8 84.6,183.6 85.4,192.8 C86.2,202.0 87.2,211.9 88.6,219.4 C90.0,226.9 92.3,233.7 94.0,238.0 C95.7,242.3 97.0,243.9 98.5,245.5 C100.0,247.1 101.8,247.3 103.2,247.6 C104.6,247.9 105.8,247.6 107.0,247.2 C108.2,246.8 109.3,245.2 110.4,245.4 C111.5,245.6 111.8,246.2 113.5,248.5 C115.2,250.8 117.8,255.6 120.4,259.0 C123.0,262.4 126.1,266.1 129.0,268.8 C131.9,271.5 133.5,273.0 138.0,275.0 C142.5,277.0 149.0,279.4 156.0,281.0 C163.0,282.6 169.2,283.6 180.0,284.5 C190.8,285.4 207.3,285.9 220.6,286.3 C233.9,286.7 246.8,286.8 260.0,286.8 C273.2,286.8 285.0,286.6 300.0,286.3 C315.0,286.0 331.0,285.5 350.0,285.2 C369.0,284.9 403.3,284.4 414.0,284.3" fill="none" stroke="#8084c2" stroke-width="1.6"/>
<path d="M83.6,205.0 C83.6,212.5 83.7,235.8 83.9,250.0 C84.1,264.2 84.2,279.2 84.6,290.0 C85.0,300.8 85.7,308.3 86.3,315.0 C86.9,321.7 87.3,325.3 88.0,330.0 C88.7,334.7 89.3,337.0 90.4,343.0 C91.5,349.0 93.2,360.2 94.8,366.0 C96.4,371.8 98.1,374.7 100.0,378.0 C101.9,381.3 104.4,384.4 106.2,386.0 C108.0,387.6 109.7,387.3 111.0,387.4 C112.3,387.5 113.2,386.2 114.2,386.5 C115.2,386.8 116.0,388.0 117.0,389.0 C118.0,390.0 118.1,390.4 120.4,392.3 C122.7,394.2 128.1,398.2 131.0,400.3 C133.9,402.4 134.2,403.2 138.0,404.7 C141.8,406.2 146.8,408.1 153.8,409.4 C160.8,410.7 164.9,411.8 180.0,412.5 C195.1,413.2 220.9,413.1 244.6,413.6 C268.3,414.1 301.1,414.4 322.0,415.3 C342.9,416.2 354.7,417.6 370.0,419.0 C385.3,420.4 406.7,423.2 414.0,424.0" fill="none" stroke="#3f8c6c" stroke-width="1.6"/>
<path d="M83.4,404.0 C83.5,406.7 83.8,415.0 84.0,420.0 C84.2,425.0 84.2,428.0 84.8,434.2 C85.4,440.4 86.3,451.0 87.5,457.2 C88.7,463.4 90.6,468.2 91.9,471.3 C93.2,474.4 94.2,475.0 95.5,476.0 C96.8,477.0 98.5,477.4 99.9,477.5 C101.3,477.6 102.7,477.2 104.0,476.5 C105.3,475.8 106.1,475.6 107.8,473.0 C109.5,470.4 112.2,464.5 114.0,460.7 C115.8,456.9 116.9,451.0 118.4,450.1 C119.9,449.2 120.4,452.8 122.8,455.4 C125.2,458.0 128.0,462.3 132.6,466.0 C137.2,469.7 143.4,474.3 150.2,477.5 C157.0,480.7 165.6,483.3 173.2,485.4 C180.8,487.5 184.1,487.8 196.0,489.9 C207.9,492.0 230.6,495.1 244.6,498.0 C258.6,500.9 267.1,503.2 280.0,507.0 C292.9,510.8 307.0,516.0 322.0,521.0 C337.0,526.0 354.7,531.7 370.0,537.0 C385.3,542.3 406.7,550.3 414.0,553.0" fill="none" stroke="#e4697f" stroke-width="1.6"/>
<rect x="81.2" y="28.0" width="333.1" height="584.0" fill="none" stroke="#5a5a5a" stroke-width="1.6"/>
<line x1="164.5" y1="612.0" x2="164.5" y2="599.0" stroke="#5a5a5a" stroke-width="1.5"/>
<line x1="247.8" y1="612.0" x2="247.8" y2="599.0" stroke="#5a5a5a" stroke-width="1.5"/>
<line x1="331.0" y1="612.0" x2="331.0" y2="599.0" stroke="#5a5a5a" stroke-width="1.5"/>
<text x="81.2" y="639.5" font-size="16" fill="#444" text-anchor="middle">0</text>
<text x="164.5" y="639.5" font-size="16" fill="#444" text-anchor="middle">50</text>
<text x="247.8" y="639.5" font-size="16" fill="#444" text-anchor="middle">100</text>
<text x="331.0" y="639.5" font-size="16" fill="#444" text-anchor="middle">150</text>
<text x="414.3" y="639.5" font-size="16" fill="#444" text-anchor="middle">200</text>
<text x="248.5" y="660.5" font-size="16" fill="#444" text-anchor="middle"><tspan font-style="italic">T</tspan> (K)</text>
<line x1="81.2" y1="508.4" x2="88.2" y2="508.4" stroke="#3a3a3a" stroke-width="1.5"/>
<line x1="81.2" y1="447.9" x2="88.2" y2="447.9" stroke="#3a3a3a" stroke-width="1.5"/>
<line x1="81.2" y1="404.9" x2="88.2" y2="404.9" stroke="#3a3a3a" stroke-width="1.5"/>
<line x1="81.2" y1="371.6" x2="88.2" y2="371.6" stroke="#3a3a3a" stroke-width="1.5"/>
<line x1="81.2" y1="344.3" x2="88.2" y2="344.3" stroke="#3a3a3a" stroke-width="1.5"/>
<line x1="81.2" y1="321.3" x2="88.2" y2="321.3" stroke="#3a3a3a" stroke-width="1.5"/>
<line x1="81.2" y1="301.3" x2="88.2" y2="301.3" stroke="#3a3a3a" stroke-width="1.5"/>
<line x1="81.2" y1="283.7" x2="88.2" y2="283.7" stroke="#3a3a3a" stroke-width="1.5"/>
<line x1="81.2" y1="164.4" x2="88.2" y2="164.4" stroke="#3a3a3a" stroke-width="1.5"/>
<line x1="81.2" y1="103.9" x2="88.2" y2="103.9" stroke="#3a3a3a" stroke-width="1.5"/>
<line x1="81.2" y1="60.9" x2="88.2" y2="60.9" stroke="#3a3a3a" stroke-width="1.5"/>
<line x1="81.2" y1="268.0" x2="94.2" y2="268.0" stroke="#3a3a3a" stroke-width="1.5"/>
<text x="61" y="618.5" font-size="16" fill="#444" text-anchor="end">10</text><text x="61.3" y="611.3" font-size="9.5" fill="#444">0</text>
<text x="61" y="274.5" font-size="16" fill="#444" text-anchor="end">10</text><text x="61.3" y="267.3" font-size="9.5" fill="#444">1</text>
<text transform="translate(31.5,322.5) rotate(-90)" font-size="16" fill="#444" text-anchor="middle"><tspan font-style="italic">R</tspan><tspan font-size="11" dy="3" font-style="italic">xx</tspan><tspan dy="-3"> (kΩ)</tspan></text>
<text transform="translate(408,308.8) scale(0.86,1)" font-size="17" stroke="#7478b4" stroke-width="0.45" fill="#7478b4" text-anchor="end">3 SL</text>
<text transform="translate(408,446.3) scale(0.86,1)" font-size="17" stroke="#4a8a68" stroke-width="0.45" fill="#4a8a68" text-anchor="end">4 SL</text>
<text transform="translate(408,569.5) scale(0.86,1)" font-size="17" stroke="#e2607a" stroke-width="0.45" fill="#e2607a" text-anchor="end">5 SL</text>
<circle cx="298.6" cy="49.9" r="4.5" fill="#a488c8"/>
<text x="308" y="54.9" font-size="14.6" fill="#3a3a3a">Bi</text>
<circle cx="298.6" cy="68.5" r="4.5" fill="#c8b890"/>
<text x="308" y="73.5" font-size="14.6" fill="#3a3a3a">Te</text>
<path d="M298.6,79.1 L303.5,87.1 L298.6,95.1 L293.7,87.1 Z" fill="#e03a20"/>
<text x="308" y="92.1" font-size="14.6" fill="#3a3a3a">Mn (spin up)</text>
<path d="M298.6,97.7 L303.5,105.7 L298.6,113.7 L293.7,105.7 Z" fill="#5a5ac0"/>
<text x="308" y="110.7" font-size="14.6" fill="#3a3a3a">Mn (spin down)</text>
<path d="M638.8,291.0 L662.3,268.0 L763.6999999999999,268.0 L740.1999999999999,291.0 Z" fill="#cadcf0"/>
<rect x="638.8" y="291.00" width="101.4" height="15.53" fill="#c4d8ee"/>
<rect x="638.8" y="306.23" width="101.4" height="15.53" fill="#a6cc88"/>
<rect x="638.8" y="321.47" width="101.4" height="15.53" fill="#c4d8ee"/>
<rect x="638.8" y="336.70" width="101.4" height="15.53" fill="#a6cc88"/>
<rect x="638.8" y="351.93" width="101.4" height="15.53" fill="#c4d8ee"/>
<rect x="638.8" y="367.17" width="101.4" height="15.53" fill="#a6cc88"/>
<path d="M740.1999999999999,291.00 L763.6999999999999,268.00 L763.6999999999999,283.53 L740.1999999999999,306.53 Z" fill="#b4c8e0"/>
<path d="M740.1999999999999,306.23 L763.6999999999999,283.23 L763.6999999999999,298.77 L740.1999999999999,321.77 Z" fill="#98bc7c"/>
<path d="M740.1999999999999,321.47 L763.6999999999999,298.47 L763.6999999999999,314.00 L740.1999999999999,337.00 Z" fill="#b4c8e0"/>
<path d="M740.1999999999999,336.70 L763.6999999999999,313.70 L763.6999999999999,329.23 L740.1999999999999,352.23 Z" fill="#98bc7c"/>
<path d="M740.1999999999999,351.93 L763.6999999999999,328.93 L763.6999999999999,344.47 L740.1999999999999,367.47 Z" fill="#b4c8e0"/>
<path d="M740.1999999999999,367.17 L763.6999999999999,344.17 L763.6999999999999,359.70 L740.1999999999999,382.70 Z" fill="#98bc7c"/>
<path d="M652.0,293.4 L655.2,298.6 L653.7,298.6 L653.7,303.9 L650.3,303.9 L650.3,298.6 L648.8,298.6 Z" fill="#e03048"/>
<line x1="652.0" y1="302.6" x2="652.0" y2="309.9" stroke="#b05070" stroke-width="1.2"/>
<path d="M652.0,319.1 L655.2,313.9 L653.7,313.9 L653.7,308.6 L650.3,308.6 L650.3,313.9 L648.8,313.9 Z" fill="#1a30d8"/>
<path d="M652.0,323.8 L655.2,329.1 L653.7,329.1 L653.7,334.3 L650.3,334.3 L650.3,329.1 L648.8,329.1 Z" fill="#e03048"/>
<line x1="652.0" y1="333.1" x2="652.0" y2="340.3" stroke="#b05070" stroke-width="1.2"/>
<path d="M652.0,349.6 L655.2,344.3 L653.7,344.3 L653.7,339.1 L650.3,339.1 L650.3,344.3 L648.8,344.3 Z" fill="#1a30d8"/>
<path d="M652.0,354.3 L655.2,359.6 L653.7,359.6 L653.7,364.8 L650.3,364.8 L650.3,359.6 L648.8,359.6 Z" fill="#e03048"/>
<line x1="652.0" y1="363.6" x2="652.0" y2="370.8" stroke="#b05070" stroke-width="1.2"/>
<path d="M652.0,380.0 L655.2,374.8 L653.7,374.8 L653.7,369.5 L650.3,369.5 L650.3,374.8 L648.8,374.8 Z" fill="#1a30d8"/>
<path d="M681.4,293.4 L684.6,298.6 L683.1,298.6 L683.1,303.9 L679.7,303.9 L679.7,298.6 L678.2,298.6 Z" fill="#e03048"/>
<line x1="681.4" y1="302.6" x2="681.4" y2="309.9" stroke="#b05070" stroke-width="1.2"/>
<path d="M681.4,319.1 L684.6,313.9 L683.1,313.9 L683.1,308.6 L679.7,308.6 L679.7,313.9 L678.2,313.9 Z" fill="#1a30d8"/>
<path d="M681.4,323.8 L684.6,329.1 L683.1,329.1 L683.1,334.3 L679.7,334.3 L679.7,329.1 L678.2,329.1 Z" fill="#e03048"/>
<line x1="681.4" y1="333.1" x2="681.4" y2="340.3" stroke="#b05070" stroke-width="1.2"/>
<path d="M681.4,349.6 L684.6,344.3 L683.1,344.3 L683.1,339.1 L679.7,339.1 L679.7,344.3 L678.2,344.3 Z" fill="#1a30d8"/>
<path d="M681.4,354.3 L684.6,359.6 L683.1,359.6 L683.1,364.8 L679.7,364.8 L679.7,359.6 L678.2,359.6 Z" fill="#e03048"/>
<line x1="681.4" y1="363.6" x2="681.4" y2="370.8" stroke="#b05070" stroke-width="1.2"/>
<path d="M681.4,380.0 L684.6,374.8 L683.1,374.8 L683.1,369.5 L679.7,369.5 L679.7,374.8 L678.2,374.8 Z" fill="#1a30d8"/>
<path d="M710.8,293.4 L714.0,298.6 L712.5,298.6 L712.5,303.9 L709.1,303.9 L709.1,298.6 L707.6,298.6 Z" fill="#e03048"/>
<line x1="710.8" y1="302.6" x2="710.8" y2="309.9" stroke="#b05070" stroke-width="1.2"/>
<path d="M710.8,319.1 L714.0,313.9 L712.5,313.9 L712.5,308.6 L709.1,308.6 L709.1,313.9 L707.6,313.9 Z" fill="#1a30d8"/>
<path d="M710.8,323.8 L714.0,329.1 L712.5,329.1 L712.5,334.3 L709.1,334.3 L709.1,329.1 L707.6,329.1 Z" fill="#e03048"/>
<line x1="710.8" y1="333.1" x2="710.8" y2="340.3" stroke="#b05070" stroke-width="1.2"/>
<path d="M710.8,349.6 L714.0,344.3 L712.5,344.3 L712.5,339.1 L709.1,339.1 L709.1,344.3 L707.6,344.3 Z" fill="#1a30d8"/>
<path d="M710.8,354.3 L714.0,359.6 L712.5,359.6 L712.5,364.8 L709.1,364.8 L709.1,359.6 L707.6,359.6 Z" fill="#e03048"/>
<line x1="710.8" y1="363.6" x2="710.8" y2="370.8" stroke="#b05070" stroke-width="1.2"/>
<path d="M710.8,380.0 L714.0,374.8 L712.5,374.8 L712.5,369.5 L709.1,369.5 L709.1,374.8 L707.6,374.8 Z" fill="#1a30d8"/>
<ellipse cx="747.2" cy="291.7" rx="2.2" ry="4.2" fill="#d84050" opacity="0.8"/>
<ellipse cx="747.2" cy="307.0" rx="2.2" ry="4.2" fill="#2a40c0" opacity="0.8"/>
<ellipse cx="747.2" cy="322.2" rx="2.2" ry="4.2" fill="#d84050" opacity="0.8"/>
<ellipse cx="747.2" cy="337.4" rx="2.2" ry="4.2" fill="#2a40c0" opacity="0.8"/>
<ellipse cx="747.2" cy="352.7" rx="2.2" ry="4.2" fill="#d84050" opacity="0.8"/>
<ellipse cx="747.2" cy="367.9" rx="2.2" ry="4.2" fill="#2a40c0" opacity="0.8"/>
<ellipse cx="757.8" cy="281.4" rx="2.2" ry="4.2" fill="#d84050" opacity="0.8"/>
<ellipse cx="757.8" cy="296.6" rx="2.2" ry="4.2" fill="#2a40c0" opacity="0.8"/>
<ellipse cx="757.8" cy="311.8" rx="2.2" ry="4.2" fill="#d84050" opacity="0.8"/>
<ellipse cx="757.8" cy="327.1" rx="2.2" ry="4.2" fill="#2a40c0" opacity="0.8"/>
<ellipse cx="757.8" cy="342.3" rx="2.2" ry="4.2" fill="#d84050" opacity="0.8"/>
<ellipse cx="757.8" cy="357.5" rx="2.2" ry="4.2" fill="#2a40c0" opacity="0.8"/>
<defs><linearGradient id="tbb" x1="0" y1="0" x2="1" y2="0"><stop offset="0" stop-color="#1a4848"/><stop offset="0.5" stop-color="#2a7070"/><stop offset="0.8" stop-color="#3a9898"/><stop offset="1" stop-color="#206060"/></linearGradient><linearGradient id="ttb" x1="0" y1="0" x2="1" y2="0"><stop offset="0" stop-color="#4cc8c8"/><stop offset="0.35" stop-color="#7ae8e8"/><stop offset="0.7" stop-color="#40c0c0"/><stop offset="1" stop-color="#2a9090"/></linearGradient><linearGradient id="pcb" x1="0" y1="0" x2="1" y2="0"><stop offset="0" stop-color="#2010ff"/><stop offset="0.3" stop-color="#8040ff"/><stop offset="0.6" stop-color="#f090f0"/><stop offset="0.85" stop-color="#ffd0e0"/><stop offset="1" stop-color="#ffe8d0"/></linearGradient></defs>
<path d="M680.0,226.7 Q689.8,246.5 699.5,250.5 Q709.2,246.5 719.0,226.7 Z" fill="url(#tbb)"/>
<ellipse cx="699.5" cy="226.7" rx="19.5" ry="7.5" fill="url(#ttb)"/>
<path d="M697.5,255.3 C694.5,255.3 680.0,271.8 680.0,281.8 A19.5,5.5 0 0 0 719.0,281.8 C719.0,271.8 700.5,255.3 697.5,255.3 Z" fill="url(#pcb)"/>
<path d="M592.7,306.8 L629.8,306.8 Q619,328.6 612.1,328.6 Q605,328.6 592.7,306.8 Z" fill="#18b8b0"/>
<path d="M592.7,366.3 Q606,342.1 611.5,342.1 Q617,342.1 630.3,366.3 Z" fill="#9a42f0"/>
<line x1="530.7" y1="411.3" x2="843.4" y2="411.3" stroke="#e020e8" stroke-width="2.2" stroke-dasharray="6.3,4.15" stroke-dashoffset="6"/>
<clipPath id="clipb"><rect x="530.7" y="139.4" width="312.69999999999993" height="407.80000000000007"/></clipPath><g clip-path="url(#clipb)">
<polyline points="530.7,411.3 562.0,271.3 593.2,239.3 624.5,226.4 640.1,208.0 663.6,191.1 687.0,182.9 718.3,188.3 749.6,221.0 780.9,260.4 812.1,305.9 843.4,353.5" fill="none" stroke="#e8252a" stroke-width="2.2"/>
<polyline points="530.7,211.4 562.0,343.7 593.2,421.5 624.5,419.4 640.1,401.1 663.6,409.9 687.0,407.7 718.3,415.3 749.6,446.6 780.9,464.3 812.1,464.3 843.4,480.6" fill="none" stroke="#2a2ad8" stroke-width="2.2"/>
<circle cx="530.7" cy="411.3" r="7.1" fill="url(#gr)"/>
<circle cx="562.0" cy="271.3" r="7.1" fill="url(#gr)"/>
<circle cx="593.2" cy="239.3" r="7.1" fill="url(#gr)"/>
<circle cx="624.5" cy="226.4" r="7.1" fill="url(#gr)"/>
<circle cx="640.1" cy="208.0" r="7.1" fill="url(#gr)"/>
<circle cx="663.6" cy="191.1" r="7.1" fill="url(#gr)"/>
<circle cx="687.0" cy="182.9" r="7.1" fill="url(#gr)"/>
<circle cx="718.3" cy="188.3" r="7.1" fill="url(#gr)"/>
<circle cx="749.6" cy="221.0" r="7.1" fill="url(#gr)"/>
<circle cx="780.9" cy="260.4" r="7.1" fill="url(#gr)"/>
<circle cx="812.1" cy="305.9" r="7.1" fill="url(#gr)"/>
<circle cx="843.4" cy="353.5" r="7.1" fill="url(#gr)"/>
<circle cx="530.7" cy="211.4" r="6.9" fill="url(#gb)"/>
<circle cx="562.0" cy="343.7" r="6.9" fill="url(#gb)"/>
<circle cx="593.2" cy="421.5" r="6.9" fill="url(#gb)"/>
<circle cx="624.5" cy="419.4" r="6.9" fill="url(#gb)"/>
<circle cx="640.1" cy="401.1" r="6.9" fill="url(#gb)"/>
<circle cx="663.6" cy="409.9" r="6.9" fill="url(#gb)"/>
<circle cx="687.0" cy="407.7" r="6.9" fill="url(#gb)"/>
<circle cx="718.3" cy="415.3" r="6.9" fill="url(#gb)"/>
<circle cx="749.6" cy="446.6" r="6.9" fill="url(#gb)"/>
<circle cx="780.9" cy="464.3" r="6.9" fill="url(#gb)"/>
<circle cx="812.1" cy="464.3" r="6.9" fill="url(#gb)"/>
<circle cx="843.4" cy="480.6" r="6.9" fill="url(#gb)"/>
</g>
<line x1="530.7" y1="139.4" x2="843.4" y2="139.4" stroke="#111" stroke-width="2.4"/>
<line x1="530.7" y1="547.2" x2="843.4" y2="547.2" stroke="#111" stroke-width="2.4"/>
<line x1="530.7" y1="138.20000000000002" x2="530.7" y2="548.4000000000001" stroke="#e8141c" stroke-width="2.6"/>
<line x1="843.4" y1="138.20000000000002" x2="843.4" y2="548.4000000000001" stroke="#1e1ee0" stroke-width="2.6"/>
<line x1="530.7" y1="547.2" x2="541.7" y2="547.2" stroke="#e8141c" stroke-width="2.2"/>
<line x1="843.4" y1="547.2" x2="832.4" y2="547.2" stroke="#1e1ee0" stroke-width="2.2"/>
<line x1="530.7" y1="513.2" x2="536.7" y2="513.2" stroke="#e8141c" stroke-width="2.2"/>
<line x1="843.4" y1="513.2" x2="837.4" y2="513.2" stroke="#1e1ee0" stroke-width="2.2"/>
<line x1="530.7" y1="479.2" x2="541.7" y2="479.2" stroke="#e8141c" stroke-width="2.2"/>
<line x1="843.4" y1="479.2" x2="832.4" y2="479.2" stroke="#1e1ee0" stroke-width="2.2"/>
<line x1="530.7" y1="445.3" x2="536.7" y2="445.3" stroke="#e8141c" stroke-width="2.2"/>
<line x1="843.4" y1="445.3" x2="837.4" y2="445.3" stroke="#1e1ee0" stroke-width="2.2"/>
<line x1="530.7" y1="411.3" x2="541.7" y2="411.3" stroke="#e8141c" stroke-width="2.2"/>
<line x1="843.4" y1="411.3" x2="832.4" y2="411.3" stroke="#1e1ee0" stroke-width="2.2"/>
<line x1="530.7" y1="377.3" x2="536.7" y2="377.3" stroke="#e8141c" stroke-width="2.2"/>
<line x1="843.4" y1="377.3" x2="837.4" y2="377.3" stroke="#1e1ee0" stroke-width="2.2"/>
<line x1="530.7" y1="343.3" x2="541.7" y2="343.3" stroke="#e8141c" stroke-width="2.2"/>
<line x1="843.4" y1="343.3" x2="832.4" y2="343.3" stroke="#1e1ee0" stroke-width="2.2"/>
<line x1="530.7" y1="309.3" x2="536.7" y2="309.3" stroke="#e8141c" stroke-width="2.2"/>
<line x1="843.4" y1="309.3" x2="837.4" y2="309.3" stroke="#1e1ee0" stroke-width="2.2"/>
<line x1="530.7" y1="275.3" x2="541.7" y2="275.3" stroke="#e8141c" stroke-width="2.2"/>
<line x1="843.4" y1="275.3" x2="832.4" y2="275.3" stroke="#1e1ee0" stroke-width="2.2"/>
<line x1="530.7" y1="241.3" x2="536.7" y2="241.3" stroke="#e8141c" stroke-width="2.2"/>
<line x1="843.4" y1="241.3" x2="837.4" y2="241.3" stroke="#1e1ee0" stroke-width="2.2"/>
<line x1="530.7" y1="207.4" x2="541.7" y2="207.4" stroke="#e8141c" stroke-width="2.2"/>
<line x1="843.4" y1="207.4" x2="832.4" y2="207.4" stroke="#1e1ee0" stroke-width="2.2"/>
<line x1="530.7" y1="173.4" x2="536.7" y2="173.4" stroke="#e8141c" stroke-width="2.2"/>
<line x1="843.4" y1="173.4" x2="837.4" y2="173.4" stroke="#1e1ee0" stroke-width="2.2"/>
<line x1="530.7" y1="139.4" x2="541.7" y2="139.4" stroke="#e8141c" stroke-width="2.2"/>
<line x1="843.4" y1="139.4" x2="832.4" y2="139.4" stroke="#1e1ee0" stroke-width="2.2"/>
<line x1="569.8" y1="547.2" x2="569.8" y2="541.2" stroke="#111" stroke-width="2.2"/>
<line x1="608.9" y1="547.2" x2="608.9" y2="536.2" stroke="#111" stroke-width="2.2"/>
<line x1="648.0" y1="547.2" x2="648.0" y2="541.2" stroke="#111" stroke-width="2.2"/>
<line x1="687.0" y1="547.2" x2="687.0" y2="536.2" stroke="#111" stroke-width="2.2"/>
<line x1="726.1" y1="547.2" x2="726.1" y2="541.2" stroke="#111" stroke-width="2.2"/>
<line x1="765.2" y1="547.2" x2="765.2" y2="536.2" stroke="#111" stroke-width="2.2"/>
<line x1="804.3" y1="547.2" x2="804.3" y2="541.2" stroke="#111" stroke-width="2.2"/>
<text x="520.5" y="554.7" font-size="21.5" fill="#e23c4a" text-anchor="end">0</text>
<text x="520.5" y="486.7" font-size="21.5" fill="#e23c4a" text-anchor="end">1</text>
<text x="520.5" y="418.8" font-size="21.5" fill="#e23c4a" text-anchor="end">2</text>
<text x="520.5" y="350.8" font-size="21.5" fill="#e23c4a" text-anchor="end">3</text>
<text x="520.5" y="282.8" font-size="21.5" fill="#e23c4a" text-anchor="end">4</text>
<text x="520.5" y="214.9" font-size="21.5" fill="#e23c4a" text-anchor="end">5</text>
<text x="520.5" y="146.9" font-size="21.5" fill="#e23c4a" text-anchor="end">6</text>
<text x="855.5" y="147.2" font-size="22" fill="#3838cc">2.0</text>
<text x="855.5" y="215.2" font-size="22" fill="#3838cc">1.5</text>
<text x="855.5" y="283.1" font-size="22" fill="#3838cc">1.0</text>
<text x="855.5" y="351.1" font-size="22" fill="#3838cc">0.5</text>
<text x="855.5" y="419.1" font-size="22" fill="#3838cc">0</text>
<text x="855" y="487.0" font-size="22" fill="#3838cc">−0.5</text>
<text x="855" y="555.0" font-size="22" fill="#3838cc">−1.0</text>
<text x="530.7" y="576.3" font-size="22" fill="#333" text-anchor="middle">10</text>
<text x="608.9" y="576.3" font-size="22" fill="#333" text-anchor="middle">20</text>
<text x="687.0" y="576.3" font-size="22" fill="#333" text-anchor="middle">30</text>
<text x="765.2" y="576.3" font-size="22" fill="#333" text-anchor="middle">40</text>
<text x="843.4" y="576.3" font-size="22" fill="#333" text-anchor="middle">50</text>
<text x="687" y="612.3" font-size="22" fill="#333" text-anchor="middle"><tspan font-style="italic">V</tspan><tspan font-size="15" dy="5">g</tspan><tspan dy="-5"> (V)</tspan></text>
<text x="544.5" y="173.6" font-size="23" fill="#333"><tspan font-style="italic">μ</tspan><tspan font-size="15" dy="5">0</tspan><tspan dy="-5" font-style="italic">H</tspan> = 0 T</text>
<text transform="translate(481,343.5) rotate(-90) scale(1.27,1)" font-size="18" fill="#e84848" text-anchor="middle"><tspan font-style="italic">ρ</tspan><tspan font-size="14" dy="3.5">xx</tspan><tspan dy="-3.5"> (</tspan><tspan font-style="italic">h</tspan>/<tspan font-style="italic">e</tspan><tspan font-size="13" dy="-9">2</tspan><tspan dy="9">)</tspan></text>
<text transform="translate(920,343.5) rotate(90) scale(1.35,1)" font-size="18.5" fill="#3535c8" text-anchor="middle">d<tspan font-style="italic">ρ</tspan><tspan font-size="13" dy="3.5" font-style="italic">yx</tspan><tspan dy="-3.5">/d</tspan><tspan font-style="italic">H</tspan> (kΩ/T)</text>
<line x1="685.6" y1="466" x2="685.6" y2="432" stroke="#111" stroke-width="2.4"/>
<path d="M678.6,437 L685.6,422.4 L692.6,437 Z" fill="#111"/>
<text x="692.5" y="492.6" font-size="17.3" fill="#444" text-anchor="middle">Axion insulator</text>
<path d="M1189.2,249.5 L1212.6000000000001,226.7 L1314.5000000000002,226.7 L1291.1000000000001,249.5 Z" fill="#cadcf0"/>
<rect x="1189.2" y="249.50" width="101.9" height="15.62" fill="#c4d8ee"/>
<rect x="1189.2" y="264.82" width="101.9" height="15.62" fill="#a6cc88"/>
<rect x="1189.2" y="280.13" width="101.9" height="15.62" fill="#c4d8ee"/>
<rect x="1189.2" y="295.45" width="101.9" height="15.62" fill="#a6cc88"/>
<rect x="1189.2" y="310.77" width="101.9" height="15.62" fill="#c4d8ee"/>
<rect x="1189.2" y="326.08" width="101.9" height="15.62" fill="#a6cc88"/>
<path d="M1291.1000000000001,249.50 L1314.5000000000002,226.70 L1314.5000000000002,242.32 L1291.1000000000001,265.12 Z" fill="#b4c8e0"/>
<path d="M1291.1000000000001,264.82 L1314.5000000000002,242.02 L1314.5000000000002,257.63 L1291.1000000000001,280.43 Z" fill="#98bc7c"/>
<path d="M1291.1000000000001,280.13 L1314.5000000000002,257.33 L1314.5000000000002,272.95 L1291.1000000000001,295.75 Z" fill="#b4c8e0"/>
<path d="M1291.1000000000001,295.45 L1314.5000000000002,272.65 L1314.5000000000002,288.27 L1291.1000000000001,311.07 Z" fill="#98bc7c"/>
<path d="M1291.1000000000001,310.77 L1314.5000000000002,287.97 L1314.5000000000002,303.58 L1291.1000000000001,326.38 Z" fill="#b4c8e0"/>
<path d="M1291.1000000000001,326.08 L1314.5000000000002,303.28 L1314.5000000000002,318.90 L1291.1000000000001,341.70 Z" fill="#98bc7c"/>
<path d="M1202.4,252.4 L1205.2,257.2 L1203.5,257.2 L1203.5,261.9 L1201.3,261.9 L1201.3,257.2 L1199.6,257.2 Z" fill="#e83a40"/>
<path d="M1202.4,267.7 L1205.2,272.5 L1203.5,272.5 L1203.5,277.2 L1201.3,277.2 L1201.3,272.5 L1199.6,272.5 Z" fill="#e2501c"/>
<path d="M1202.4,283.0 L1205.2,287.8 L1203.5,287.8 L1203.5,292.5 L1201.3,292.5 L1201.3,287.8 L1199.6,287.8 Z" fill="#e83a40"/>
<path d="M1202.4,298.4 L1205.2,303.1 L1203.5,303.1 L1203.5,307.9 L1201.3,307.9 L1201.3,303.1 L1199.6,303.1 Z" fill="#e2501c"/>
<path d="M1202.4,313.7 L1205.2,318.4 L1203.5,318.4 L1203.5,323.2 L1201.3,323.2 L1201.3,318.4 L1199.6,318.4 Z" fill="#e83a40"/>
<path d="M1202.4,329.0 L1205.2,333.7 L1203.5,333.7 L1203.5,338.5 L1201.3,338.5 L1201.3,333.7 L1199.6,333.7 Z" fill="#e2501c"/>
<path d="M1232.0,252.4 L1234.8,257.2 L1233.1,257.2 L1233.1,261.9 L1230.9,261.9 L1230.9,257.2 L1229.2,257.2 Z" fill="#e83a40"/>
<path d="M1232.0,267.7 L1234.8,272.5 L1233.1,272.5 L1233.1,277.2 L1230.9,277.2 L1230.9,272.5 L1229.2,272.5 Z" fill="#e2501c"/>
<path d="M1232.0,283.0 L1234.8,287.8 L1233.1,287.8 L1233.1,292.5 L1230.9,292.5 L1230.9,287.8 L1229.2,287.8 Z" fill="#e83a40"/>
<path d="M1232.0,298.4 L1234.8,303.1 L1233.1,303.1 L1233.1,307.9 L1230.9,307.9 L1230.9,303.1 L1229.2,303.1 Z" fill="#e2501c"/>
<path d="M1232.0,313.7 L1234.8,318.4 L1233.1,318.4 L1233.1,323.2 L1230.9,323.2 L1230.9,318.4 L1229.2,318.4 Z" fill="#e83a40"/>
<path d="M1232.0,329.0 L1234.8,333.7 L1233.1,333.7 L1233.1,338.5 L1230.9,338.5 L1230.9,333.7 L1229.2,333.7 Z" fill="#e2501c"/>
<path d="M1261.5,252.4 L1264.3,257.2 L1262.6,257.2 L1262.6,261.9 L1260.4,261.9 L1260.4,257.2 L1258.7,257.2 Z" fill="#e83a40"/>
<path d="M1261.5,267.7 L1264.3,272.5 L1262.6,272.5 L1262.6,277.2 L1260.4,277.2 L1260.4,272.5 L1258.7,272.5 Z" fill="#e2501c"/>
<path d="M1261.5,283.0 L1264.3,287.8 L1262.6,287.8 L1262.6,292.5 L1260.4,292.5 L1260.4,287.8 L1258.7,287.8 Z" fill="#e83a40"/>
<path d="M1261.5,298.4 L1264.3,303.1 L1262.6,303.1 L1262.6,307.9 L1260.4,307.9 L1260.4,303.1 L1258.7,303.1 Z" fill="#e2501c"/>
<path d="M1261.5,313.7 L1264.3,318.4 L1262.6,318.4 L1262.6,323.2 L1260.4,323.2 L1260.4,318.4 L1258.7,318.4 Z" fill="#e83a40"/>
<path d="M1261.5,329.0 L1264.3,333.7 L1262.6,333.7 L1262.6,338.5 L1260.4,338.5 L1260.4,333.7 L1258.7,333.7 Z" fill="#e2501c"/>
<ellipse cx="1298.1" cy="250.3" rx="2.2" ry="4.2" fill="#d84050" opacity="0.8"/>
<ellipse cx="1298.1" cy="265.6" rx="2.2" ry="4.2" fill="#d84050" opacity="0.8"/>
<ellipse cx="1298.1" cy="281.0" rx="2.2" ry="4.2" fill="#d84050" opacity="0.8"/>
<ellipse cx="1298.1" cy="296.3" rx="2.2" ry="4.2" fill="#d84050" opacity="0.8"/>
<ellipse cx="1298.1" cy="311.6" rx="2.2" ry="4.2" fill="#d84050" opacity="0.8"/>
<ellipse cx="1298.1" cy="326.9" rx="2.2" ry="4.2" fill="#d84050" opacity="0.8"/>
<ellipse cx="1308.7" cy="240.1" rx="2.2" ry="4.2" fill="#d84050" opacity="0.8"/>
<ellipse cx="1308.7" cy="255.4" rx="2.2" ry="4.2" fill="#d84050" opacity="0.8"/>
<ellipse cx="1308.7" cy="270.7" rx="2.2" ry="4.2" fill="#d84050" opacity="0.8"/>
<ellipse cx="1308.7" cy="286.0" rx="2.2" ry="4.2" fill="#d84050" opacity="0.8"/>
<ellipse cx="1308.7" cy="301.3" rx="2.2" ry="4.2" fill="#d84050" opacity="0.8"/>
<ellipse cx="1308.7" cy="316.6" rx="2.2" ry="4.2" fill="#d84050" opacity="0.8"/>
<defs><linearGradient id="tbc" x1="0" y1="0" x2="1" y2="0"><stop offset="0" stop-color="#1a4848"/><stop offset="0.5" stop-color="#2a7070"/><stop offset="0.8" stop-color="#3a9898"/><stop offset="1" stop-color="#206060"/></linearGradient><linearGradient id="ttc" x1="0" y1="0" x2="1" y2="0"><stop offset="0" stop-color="#4cc8c8"/><stop offset="0.35" stop-color="#7ae8e8"/><stop offset="0.7" stop-color="#40c0c0"/><stop offset="1" stop-color="#2a9090"/></linearGradient><linearGradient id="pcc" x1="0" y1="0" x2="1" y2="0"><stop offset="0" stop-color="#2010ff"/><stop offset="0.3" stop-color="#8040ff"/><stop offset="0.6" stop-color="#f090f0"/><stop offset="0.85" stop-color="#ffd0e0"/><stop offset="1" stop-color="#ffe8d0"/></linearGradient></defs>
<path d="M1231.7,188.1 Q1241.5,206.7 1251.2,210.7 Q1261.0,206.7 1270.7,188.1 Z" fill="url(#tbc)"/>
<ellipse cx="1251.2" cy="188.1" rx="19.5" ry="7.5" fill="url(#ttc)"/>
<path d="M1249.2,215.4 C1246.2,215.4 1231.7,229.9 1231.7,239.9 A19.5,5.5 0 0 0 1270.7,239.9 C1270.7,229.9 1252.2,215.4 1249.2,215.4 Z" fill="url(#pcc)"/>
<path d="M1144.4,265 L1181.6,265 Q1172,284 1163.3,286.5 L1159,286 Z" fill="#18b8b0"/>
<path d="M1145,322.2 L1166.2,296.3 Q1175,308 1181.6,322.2 Z" fill="#9a42f0"/>
<line x1="1158.6" y1="285.6" x2="1168" y2="298.6" stroke="#4a3a90" stroke-width="1.6"/>
<path d="M1201,293.5 L1291.1,293.5 L1313.1,273.4" fill="none" stroke="#1c1cd8" stroke-width="5.2"/>
<path d="M1190.5,293.5 L1202,287 L1202,300 Z" fill="#1c1cd8"/>
<line x1="1063.5" y1="361.1" x2="1382.9" y2="361.1" stroke="#e020e8" stroke-width="2.2" stroke-dasharray="6.3,4.15"/>
<line x1="1063.5" y1="508.2" x2="1382.9" y2="508.2" stroke="#111" stroke-width="2.4" stroke-dasharray="6.5,3.95" stroke-dashoffset="8.80"/>
<clipPath id="clipc"><rect x="1063.5" y="139.8" width="319.4000000000001" height="404.7"/></clipPath><g clip-path="url(#clipc)">
<polyline points="1063.5,190.0 1095.4,212.5 1127.4,334.6 1159.3,492.8 1175.3,504.5 1199.2,505.3 1223.2,503.8 1255.1,488.3 1287.1,450.8 1319.0,428.8 1351.0,422.9 1382.9,426.4" fill="none" stroke="#e8252a" stroke-width="2.2"/>
<polyline points="1063.5,500.3 1095.4,497.9 1127.4,456.0 1159.3,374.6 1175.3,365.8 1199.2,365.8 1223.2,366.5 1255.1,375.8 1287.1,402.3 1319.0,428.8 1351.0,444.1 1382.9,454.2" fill="none" stroke="#2a2ad8" stroke-width="2.2"/>
<circle cx="1063.5" cy="190.0" r="7.1" fill="url(#gr)"/>
<circle cx="1095.4" cy="212.5" r="7.1" fill="url(#gr)"/>
<circle cx="1127.4" cy="334.6" r="7.1" fill="url(#gr)"/>
<circle cx="1159.3" cy="492.8" r="7.1" fill="url(#gr)"/>
<circle cx="1175.3" cy="504.5" r="7.1" fill="url(#gr)"/>
<circle cx="1199.2" cy="505.3" r="7.1" fill="url(#gr)"/>
<circle cx="1223.2" cy="503.8" r="7.1" fill="url(#gr)"/>
<circle cx="1255.1" cy="488.3" r="7.1" fill="url(#gr)"/>
<circle cx="1287.1" cy="450.8" r="7.1" fill="url(#gr)"/>
<circle cx="1319.0" cy="428.8" r="7.1" fill="url(#gr)"/>
<circle cx="1351.0" cy="422.9" r="7.1" fill="url(#gr)"/>
<circle cx="1382.9" cy="426.4" r="7.1" fill="url(#gr)"/>
<circle cx="1063.5" cy="500.3" r="6.9" fill="url(#gb)"/>
<circle cx="1095.4" cy="497.9" r="6.9" fill="url(#gb)"/>
<circle cx="1127.4" cy="456.0" r="6.9" fill="url(#gb)"/>
<circle cx="1159.3" cy="374.6" r="6.9" fill="url(#gb)"/>
<circle cx="1175.3" cy="365.8" r="6.9" fill="url(#gb)"/>
<circle cx="1199.2" cy="365.8" r="6.9" fill="url(#gb)"/>
<circle cx="1223.2" cy="366.5" r="6.9" fill="url(#gb)"/>
<circle cx="1255.1" cy="375.8" r="6.9" fill="url(#gb)"/>
<circle cx="1287.1" cy="402.3" r="6.9" fill="url(#gb)"/>
<circle cx="1319.0" cy="428.8" r="6.9" fill="url(#gb)"/>
<circle cx="1351.0" cy="444.1" r="6.9" fill="url(#gb)"/>
<circle cx="1382.9" cy="454.2" r="6.9" fill="url(#gb)"/>
</g>
<rect x="1063.5" y="139.8" width="319.4000000000001" height="404.7" fill="none" stroke="#111" stroke-width="2.4"/>
<line x1="1063.5" y1="508.2" x2="1074.5" y2="508.2" stroke="#111" stroke-width="2.2"/>
<line x1="1063.5" y1="471.4" x2="1069.5" y2="471.4" stroke="#111" stroke-width="2.2"/>
<line x1="1063.5" y1="434.6" x2="1074.5" y2="434.6" stroke="#111" stroke-width="2.2"/>
<line x1="1063.5" y1="397.9" x2="1069.5" y2="397.9" stroke="#111" stroke-width="2.2"/>
<line x1="1063.5" y1="361.1" x2="1074.5" y2="361.1" stroke="#111" stroke-width="2.2"/>
<line x1="1063.5" y1="324.3" x2="1069.5" y2="324.3" stroke="#111" stroke-width="2.2"/>
<line x1="1063.5" y1="287.6" x2="1074.5" y2="287.6" stroke="#111" stroke-width="2.2"/>
<line x1="1063.5" y1="250.8" x2="1069.5" y2="250.8" stroke="#111" stroke-width="2.2"/>
<line x1="1063.5" y1="214.0" x2="1074.5" y2="214.0" stroke="#111" stroke-width="2.2"/>
<line x1="1063.5" y1="177.2" x2="1069.5" y2="177.2" stroke="#111" stroke-width="2.2"/>
<line x1="1063.5" y1="140.4" x2="1074.5" y2="140.4" stroke="#111" stroke-width="2.2"/>
<line x1="1103.4" y1="544.5" x2="1103.4" y2="538.5" stroke="#111" stroke-width="2.2"/>
<line x1="1143.3" y1="544.5" x2="1143.3" y2="532.5" stroke="#111" stroke-width="2.2"/>
<line x1="1183.3" y1="544.5" x2="1183.3" y2="538.5" stroke="#111" stroke-width="2.2"/>
<line x1="1223.2" y1="544.5" x2="1223.2" y2="532.5" stroke="#111" stroke-width="2.2"/>
<line x1="1263.1" y1="544.5" x2="1263.1" y2="538.5" stroke="#111" stroke-width="2.2"/>
<line x1="1303.1" y1="544.5" x2="1303.1" y2="532.5" stroke="#111" stroke-width="2.2"/>
<line x1="1343.0" y1="544.5" x2="1343.0" y2="538.5" stroke="#111" stroke-width="2.2"/>
<text x="1052.5" y="515.7" font-size="21.5" fill="#333" text-anchor="end">0</text>
<text x="1052.5" y="442.1" font-size="21.5" fill="#333" text-anchor="end">0.5</text>
<text x="1052.5" y="368.6" font-size="21.5" fill="#333" text-anchor="end">1.0</text>
<text x="1052.5" y="295.1" font-size="21.5" fill="#333" text-anchor="end">1.5</text>
<text x="1052.5" y="221.5" font-size="21.5" fill="#333" text-anchor="end">2.0</text>
<text x="1052.5" y="147.9" font-size="21.5" fill="#333" text-anchor="end">2.5</text>
<text x="1063.5" y="573.8" font-size="22" fill="#333" text-anchor="middle">10</text>
<text x="1143.3" y="573.8" font-size="22" fill="#333" text-anchor="middle">20</text>
<text x="1223.2" y="573.8" font-size="22" fill="#333" text-anchor="middle">30</text>
<text x="1303.1" y="573.8" font-size="22" fill="#333" text-anchor="middle">40</text>
<text x="1382.9" y="573.8" font-size="22" fill="#333" text-anchor="middle">50</text>
<text x="1223" y="612.3" font-size="22" fill="#333" text-anchor="middle"><tspan font-style="italic">V</tspan><tspan font-size="15" dy="5">g</tspan><tspan dy="-5"> (V)</tspan></text>
<text x="1276" y="169.7" font-size="23" fill="#333"><tspan font-style="italic">μ</tspan><tspan font-size="15" dy="5">0</tspan><tspan dy="-5" font-style="italic">H</tspan> = 9 T</text>
<text transform="translate(996.5,340.5) rotate(-90) scale(1.3,1)" font-size="17.5" fill="#333" text-anchor="middle"><tspan font-style="italic">ρ</tspan><tspan font-size="12.5" dy="3.5">xx</tspan><tspan dy="-3.5">,</tspan><tspan font-style="italic">ρ</tspan><tspan font-size="12.5" dy="3.5">yx</tspan><tspan dy="-3.5"> (</tspan><tspan font-style="italic">h</tspan>/<tspan font-style="italic">e</tspan><tspan font-size="12.5" dy="-9">2</tspan><tspan dy="9">)</tspan></text>
<text x="1086" y="182" font-size="20" fill="#e83a3a" font-style="italic">ρ<tspan font-size="14" dy="4">xx</tspan></text>
<text x="1081" y="446" font-size="20" fill="#3a3ad8" font-style="italic">ρ<tspan font-size="14" dy="4">yx</tspan></text>
<line x1="1208.2" y1="414.7" x2="1208.2" y2="384" stroke="#111" stroke-width="2.4"/>
<path d="M1201.5,388.5 L1208.2,374 L1214.9,388.5 Z" fill="#111"/>
<text x="1218.5" y="437.6" font-size="17.3" fill="#444" text-anchor="middle">Chern insulator</text>
</svg>
</body></html>
